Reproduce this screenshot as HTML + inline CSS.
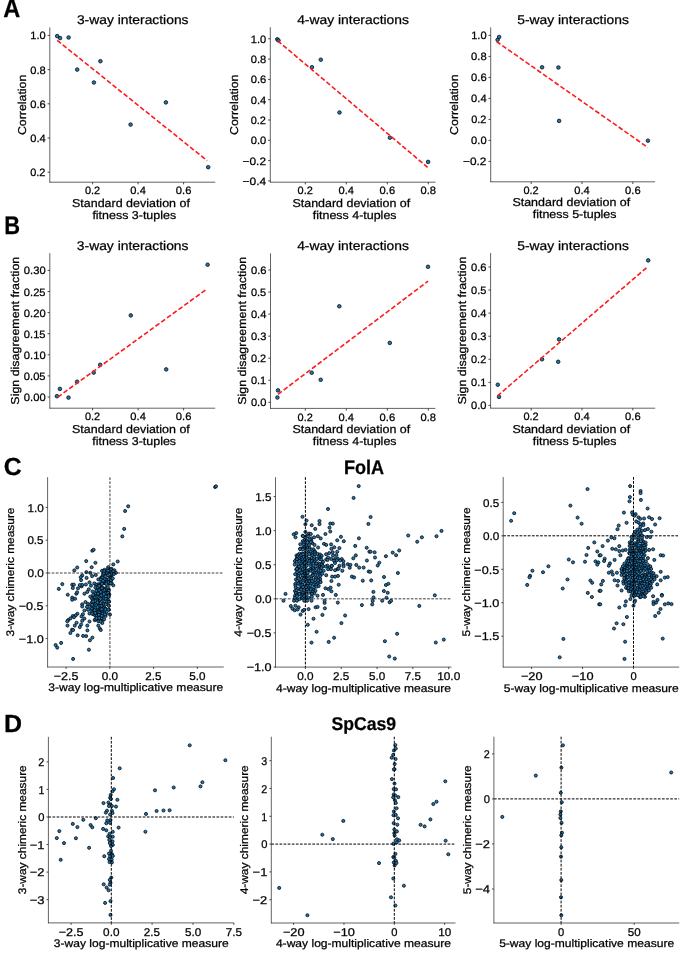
<!DOCTYPE html>
<html><head><meta charset="utf-8"><style>
html,body{margin:0;padding:0;background:#fff;}
svg{display:block;font-family:"Liberation Sans", sans-serif;will-change:transform;}
text{stroke:#000;stroke-width:0.25px;text-rendering:geometricPrecision;}
</style></head><body>
<svg width="685" height="956" viewBox="0 0 685 956">
<rect width="685" height="956" fill="#fff"/>
<text transform="translate(3.31,16.60) scale(0.9103,1)" font-size="25.87" font-weight="bold" fill="#000">A</text>
<text transform="translate(4.24,233.50) scale(0.8557,1)" font-size="25.58" font-weight="bold" fill="#000">B</text>
<text transform="translate(3.78,474.90) scale(1.0059,1)" font-size="24.63" font-weight="bold" fill="#000">C</text>
<text transform="translate(4.03,731.70) scale(1.0037,1)" font-size="24.86" font-weight="bold" fill="#000">D</text>
<line x1="49.80" y1="27.40" x2="49.80" y2="182.50" stroke="#000" stroke-width="0.62"/>
<line x1="49.50" y1="182.20" x2="215.30" y2="182.20" stroke="#000" stroke-width="0.62"/>
<line x1="47.60" y1="35.40" x2="49.80" y2="35.40" stroke="#333" stroke-width="0.9"/>
<line x1="47.60" y1="69.60" x2="49.80" y2="69.60" stroke="#333" stroke-width="0.9"/>
<line x1="47.60" y1="103.80" x2="49.80" y2="103.80" stroke="#333" stroke-width="0.9"/>
<line x1="47.60" y1="138.00" x2="49.80" y2="138.00" stroke="#333" stroke-width="0.9"/>
<line x1="47.60" y1="172.20" x2="49.80" y2="172.20" stroke="#333" stroke-width="0.9"/>
<line x1="92.60" y1="182.20" x2="92.60" y2="184.40" stroke="#333" stroke-width="0.9"/>
<line x1="138.10" y1="182.20" x2="138.10" y2="184.40" stroke="#333" stroke-width="0.9"/>
<line x1="183.60" y1="182.20" x2="183.60" y2="184.40" stroke="#333" stroke-width="0.9"/>
<text transform="translate(30.25,39.44) scale(1.0437,1)" font-size="10.63" font-weight="normal" fill="#000">1.0</text>
<text transform="translate(30.22,73.64) scale(1.0479,1)" font-size="10.63" font-weight="normal" fill="#000">0.8</text>
<text transform="translate(30.22,107.84) scale(1.0521,1)" font-size="10.63" font-weight="normal" fill="#000">0.6</text>
<text transform="translate(30.22,142.04) scale(1.0453,1)" font-size="10.63" font-weight="normal" fill="#000">0.4</text>
<text transform="translate(30.23,176.24) scale(1.0304,1)" font-size="10.63" font-weight="normal" fill="#000">0.2</text>
<text transform="translate(84.88,194.32) scale(1.0304,1)" font-size="10.63" font-weight="normal" fill="#000">0.2</text>
<text transform="translate(130.37,194.32) scale(1.0453,1)" font-size="10.63" font-weight="normal" fill="#000">0.4</text>
<text transform="translate(175.87,194.32) scale(1.0521,1)" font-size="10.63" font-weight="normal" fill="#000">0.6</text>
<text transform="translate(76.88,24.40) scale(1.0919,1)" font-size="12.69" font-weight="normal" fill="#000">3-way interactions</text>
<text transform="translate(72.03,206.70) scale(1.0916,1)" font-size="11.43" font-weight="normal" fill="#000">Standard deviation of</text>
<text transform="translate(92.38,218.50) scale(1.0903,1)" font-size="11.43" font-weight="normal" fill="#000">fitness 3-tuples</text>
<text transform="translate(25.50,134.46) rotate(-90) translate(-0.63,0) scale(1.0810,1)" font-size="11.43" font-weight="normal">Correlation</text>
<line x1="270.30" y1="27.20" x2="270.30" y2="182.50" stroke="#000" stroke-width="0.62"/>
<line x1="270.00" y1="182.20" x2="435.60" y2="182.20" stroke="#000" stroke-width="0.62"/>
<line x1="268.10" y1="38.80" x2="270.30" y2="38.80" stroke="#333" stroke-width="0.9"/>
<line x1="268.10" y1="59.10" x2="270.30" y2="59.10" stroke="#333" stroke-width="0.9"/>
<line x1="268.10" y1="79.40" x2="270.30" y2="79.40" stroke="#333" stroke-width="0.9"/>
<line x1="268.10" y1="99.70" x2="270.30" y2="99.70" stroke="#333" stroke-width="0.9"/>
<line x1="268.10" y1="120.00" x2="270.30" y2="120.00" stroke="#333" stroke-width="0.9"/>
<line x1="268.10" y1="140.30" x2="270.30" y2="140.30" stroke="#333" stroke-width="0.9"/>
<line x1="268.10" y1="160.60" x2="270.30" y2="160.60" stroke="#333" stroke-width="0.9"/>
<line x1="268.10" y1="180.90" x2="270.30" y2="180.90" stroke="#333" stroke-width="0.9"/>
<line x1="305.30" y1="182.20" x2="305.30" y2="184.40" stroke="#333" stroke-width="0.9"/>
<line x1="346.30" y1="182.20" x2="346.30" y2="184.40" stroke="#333" stroke-width="0.9"/>
<line x1="387.30" y1="182.20" x2="387.30" y2="184.40" stroke="#333" stroke-width="0.9"/>
<line x1="428.30" y1="182.20" x2="428.30" y2="184.40" stroke="#333" stroke-width="0.9"/>
<text transform="translate(250.75,42.84) scale(1.0437,1)" font-size="10.63" font-weight="normal" fill="#000">1.0</text>
<text transform="translate(250.72,63.14) scale(1.0479,1)" font-size="10.63" font-weight="normal" fill="#000">0.8</text>
<text transform="translate(250.72,83.44) scale(1.0521,1)" font-size="10.63" font-weight="normal" fill="#000">0.6</text>
<text transform="translate(250.72,103.74) scale(1.0453,1)" font-size="10.63" font-weight="normal" fill="#000">0.4</text>
<text transform="translate(250.73,124.04) scale(1.0304,1)" font-size="10.63" font-weight="normal" fill="#000">0.2</text>
<text transform="translate(250.72,144.34) scale(1.0457,1)" font-size="10.63" font-weight="normal" fill="#000">0.0</text>
<text transform="translate(242.59,164.64) scale(1.1156,1)" font-size="10.63" font-weight="normal" fill="#000">−0.2</text>
<text transform="translate(242.59,184.94) scale(1.1250,1)" font-size="10.63" font-weight="normal" fill="#000">−0.4</text>
<text transform="translate(297.58,194.32) scale(1.0304,1)" font-size="10.63" font-weight="normal" fill="#000">0.2</text>
<text transform="translate(338.57,194.32) scale(1.0453,1)" font-size="10.63" font-weight="normal" fill="#000">0.4</text>
<text transform="translate(379.57,194.32) scale(1.0521,1)" font-size="10.63" font-weight="normal" fill="#000">0.6</text>
<text transform="translate(420.57,194.32) scale(1.0479,1)" font-size="10.63" font-weight="normal" fill="#000">0.8</text>
<text transform="translate(297.16,24.20) scale(1.0931,1)" font-size="12.69" font-weight="normal" fill="#000">4-way interactions</text>
<text transform="translate(292.43,206.70) scale(1.0916,1)" font-size="11.43" font-weight="normal" fill="#000">Standard deviation of</text>
<text transform="translate(312.78,218.50) scale(1.0903,1)" font-size="11.43" font-weight="normal" fill="#000">fitness 4-tuples</text>
<text transform="translate(238.20,134.36) rotate(-90) translate(-0.63,0) scale(1.0810,1)" font-size="11.43" font-weight="normal">Correlation</text>
<line x1="490.70" y1="27.40" x2="490.70" y2="182.10" stroke="#000" stroke-width="0.62"/>
<line x1="490.40" y1="181.80" x2="655.10" y2="181.80" stroke="#000" stroke-width="0.62"/>
<line x1="488.50" y1="35.40" x2="490.70" y2="35.40" stroke="#333" stroke-width="0.9"/>
<line x1="488.50" y1="56.40" x2="490.70" y2="56.40" stroke="#333" stroke-width="0.9"/>
<line x1="488.50" y1="77.40" x2="490.70" y2="77.40" stroke="#333" stroke-width="0.9"/>
<line x1="488.50" y1="98.40" x2="490.70" y2="98.40" stroke="#333" stroke-width="0.9"/>
<line x1="488.50" y1="119.40" x2="490.70" y2="119.40" stroke="#333" stroke-width="0.9"/>
<line x1="488.50" y1="140.40" x2="490.70" y2="140.40" stroke="#333" stroke-width="0.9"/>
<line x1="488.50" y1="161.40" x2="490.70" y2="161.40" stroke="#333" stroke-width="0.9"/>
<line x1="531.20" y1="181.80" x2="531.20" y2="184.00" stroke="#333" stroke-width="0.9"/>
<line x1="582.00" y1="181.80" x2="582.00" y2="184.00" stroke="#333" stroke-width="0.9"/>
<line x1="632.80" y1="181.80" x2="632.80" y2="184.00" stroke="#333" stroke-width="0.9"/>
<text transform="translate(471.15,39.44) scale(1.0437,1)" font-size="10.63" font-weight="normal" fill="#000">1.0</text>
<text transform="translate(471.12,60.44) scale(1.0479,1)" font-size="10.63" font-weight="normal" fill="#000">0.8</text>
<text transform="translate(471.12,81.44) scale(1.0521,1)" font-size="10.63" font-weight="normal" fill="#000">0.6</text>
<text transform="translate(471.12,102.44) scale(1.0453,1)" font-size="10.63" font-weight="normal" fill="#000">0.4</text>
<text transform="translate(471.13,123.44) scale(1.0304,1)" font-size="10.63" font-weight="normal" fill="#000">0.2</text>
<text transform="translate(471.12,144.44) scale(1.0457,1)" font-size="10.63" font-weight="normal" fill="#000">0.0</text>
<text transform="translate(462.99,165.44) scale(1.1156,1)" font-size="10.63" font-weight="normal" fill="#000">−0.2</text>
<text transform="translate(523.48,193.92) scale(1.0304,1)" font-size="10.63" font-weight="normal" fill="#000">0.2</text>
<text transform="translate(574.27,193.92) scale(1.0453,1)" font-size="10.63" font-weight="normal" fill="#000">0.4</text>
<text transform="translate(625.07,193.92) scale(1.0521,1)" font-size="10.63" font-weight="normal" fill="#000">0.6</text>
<text transform="translate(517.22,24.40) scale(1.0920,1)" font-size="12.69" font-weight="normal" fill="#000">5-way interactions</text>
<text transform="translate(512.38,206.30) scale(1.0916,1)" font-size="11.43" font-weight="normal" fill="#000">Standard deviation of</text>
<text transform="translate(532.73,218.10) scale(1.0903,1)" font-size="11.43" font-weight="normal" fill="#000">fitness 5-tuples</text>
<text transform="translate(458.30,134.26) rotate(-90) translate(-0.63,0) scale(1.0810,1)" font-size="11.43" font-weight="normal">Correlation</text>
<line x1="49.80" y1="253.20" x2="49.80" y2="408.50" stroke="#000" stroke-width="0.62"/>
<line x1="49.50" y1="408.20" x2="215.20" y2="408.20" stroke="#000" stroke-width="0.62"/>
<line x1="47.60" y1="270.40" x2="49.80" y2="270.40" stroke="#333" stroke-width="0.9"/>
<line x1="47.60" y1="291.50" x2="49.80" y2="291.50" stroke="#333" stroke-width="0.9"/>
<line x1="47.60" y1="312.60" x2="49.80" y2="312.60" stroke="#333" stroke-width="0.9"/>
<line x1="47.60" y1="333.70" x2="49.80" y2="333.70" stroke="#333" stroke-width="0.9"/>
<line x1="47.60" y1="354.80" x2="49.80" y2="354.80" stroke="#333" stroke-width="0.9"/>
<line x1="47.60" y1="375.90" x2="49.80" y2="375.90" stroke="#333" stroke-width="0.9"/>
<line x1="47.60" y1="397.00" x2="49.80" y2="397.00" stroke="#333" stroke-width="0.9"/>
<line x1="92.60" y1="408.20" x2="92.60" y2="410.40" stroke="#333" stroke-width="0.9"/>
<line x1="138.10" y1="408.20" x2="138.10" y2="410.40" stroke="#333" stroke-width="0.9"/>
<line x1="183.60" y1="408.20" x2="183.60" y2="410.40" stroke="#333" stroke-width="0.9"/>
<text transform="translate(23.86,274.44) scale(1.0549,1)" font-size="10.63" font-weight="normal" fill="#000">0.30</text>
<text transform="translate(23.86,295.54) scale(1.0460,1)" font-size="10.63" font-weight="normal" fill="#000">0.25</text>
<text transform="translate(23.86,316.64) scale(1.0549,1)" font-size="10.63" font-weight="normal" fill="#000">0.20</text>
<text transform="translate(23.86,337.74) scale(1.0460,1)" font-size="10.63" font-weight="normal" fill="#000">0.15</text>
<text transform="translate(23.86,358.84) scale(1.0549,1)" font-size="10.63" font-weight="normal" fill="#000">0.10</text>
<text transform="translate(23.86,379.94) scale(1.0460,1)" font-size="10.63" font-weight="normal" fill="#000">0.05</text>
<text transform="translate(23.86,401.04) scale(1.0549,1)" font-size="10.63" font-weight="normal" fill="#000">0.00</text>
<text transform="translate(84.88,420.32) scale(1.0304,1)" font-size="10.63" font-weight="normal" fill="#000">0.2</text>
<text transform="translate(130.37,420.32) scale(1.0453,1)" font-size="10.63" font-weight="normal" fill="#000">0.4</text>
<text transform="translate(175.87,420.32) scale(1.0521,1)" font-size="10.63" font-weight="normal" fill="#000">0.6</text>
<text transform="translate(76.83,250.20) scale(1.0919,1)" font-size="12.69" font-weight="normal" fill="#000">3-way interactions</text>
<text transform="translate(71.98,432.70) scale(1.0916,1)" font-size="11.43" font-weight="normal" fill="#000">Standard deviation of</text>
<text transform="translate(92.33,444.50) scale(1.0903,1)" font-size="11.43" font-weight="normal" fill="#000">fitness 3-tuples</text>
<text transform="translate(18.70,404.08) rotate(-90) translate(-0.56,0) scale(1.0881,1)" font-size="11.43" font-weight="normal">Sign disagreement fraction</text>
<line x1="270.50" y1="253.30" x2="270.50" y2="408.70" stroke="#000" stroke-width="0.62"/>
<line x1="270.20" y1="408.40" x2="435.40" y2="408.40" stroke="#000" stroke-width="0.62"/>
<line x1="268.30" y1="270.00" x2="270.50" y2="270.00" stroke="#333" stroke-width="0.9"/>
<line x1="268.30" y1="292.05" x2="270.50" y2="292.05" stroke="#333" stroke-width="0.9"/>
<line x1="268.30" y1="314.10" x2="270.50" y2="314.10" stroke="#333" stroke-width="0.9"/>
<line x1="268.30" y1="336.15" x2="270.50" y2="336.15" stroke="#333" stroke-width="0.9"/>
<line x1="268.30" y1="358.20" x2="270.50" y2="358.20" stroke="#333" stroke-width="0.9"/>
<line x1="268.30" y1="380.25" x2="270.50" y2="380.25" stroke="#333" stroke-width="0.9"/>
<line x1="268.30" y1="402.30" x2="270.50" y2="402.30" stroke="#333" stroke-width="0.9"/>
<line x1="305.30" y1="408.40" x2="305.30" y2="410.60" stroke="#333" stroke-width="0.9"/>
<line x1="346.30" y1="408.40" x2="346.30" y2="410.60" stroke="#333" stroke-width="0.9"/>
<line x1="387.30" y1="408.40" x2="387.30" y2="410.60" stroke="#333" stroke-width="0.9"/>
<line x1="428.30" y1="408.40" x2="428.30" y2="410.60" stroke="#333" stroke-width="0.9"/>
<text transform="translate(250.92,274.04) scale(1.0521,1)" font-size="10.63" font-weight="normal" fill="#000">0.6</text>
<text transform="translate(250.93,296.09) scale(1.0330,1)" font-size="10.63" font-weight="normal" fill="#000">0.5</text>
<text transform="translate(250.92,318.14) scale(1.0453,1)" font-size="10.63" font-weight="normal" fill="#000">0.4</text>
<text transform="translate(250.92,340.19) scale(1.0398,1)" font-size="10.63" font-weight="normal" fill="#000">0.3</text>
<text transform="translate(250.93,362.24) scale(1.0304,1)" font-size="10.63" font-weight="normal" fill="#000">0.2</text>
<text transform="translate(250.93,384.29) scale(1.0349,1)" font-size="10.63" font-weight="normal" fill="#000">0.1</text>
<text transform="translate(250.92,406.34) scale(1.0457,1)" font-size="10.63" font-weight="normal" fill="#000">0.0</text>
<text transform="translate(297.58,420.52) scale(1.0304,1)" font-size="10.63" font-weight="normal" fill="#000">0.2</text>
<text transform="translate(338.57,420.52) scale(1.0453,1)" font-size="10.63" font-weight="normal" fill="#000">0.4</text>
<text transform="translate(379.57,420.52) scale(1.0521,1)" font-size="10.63" font-weight="normal" fill="#000">0.6</text>
<text transform="translate(420.57,420.52) scale(1.0479,1)" font-size="10.63" font-weight="normal" fill="#000">0.8</text>
<text transform="translate(297.16,250.30) scale(1.0931,1)" font-size="12.69" font-weight="normal" fill="#000">4-way interactions</text>
<text transform="translate(292.43,432.90) scale(1.0916,1)" font-size="11.43" font-weight="normal" fill="#000">Standard deviation of</text>
<text transform="translate(312.78,444.70) scale(1.0903,1)" font-size="11.43" font-weight="normal" fill="#000">fitness 4-tuples</text>
<text transform="translate(245.50,404.23) rotate(-90) translate(-0.56,0) scale(1.0881,1)" font-size="11.43" font-weight="normal">Sign disagreement fraction</text>
<line x1="490.60" y1="253.00" x2="490.60" y2="408.50" stroke="#000" stroke-width="0.62"/>
<line x1="490.30" y1="408.20" x2="655.20" y2="408.20" stroke="#000" stroke-width="0.62"/>
<line x1="488.40" y1="267.00" x2="490.60" y2="267.00" stroke="#333" stroke-width="0.9"/>
<line x1="488.40" y1="290.07" x2="490.60" y2="290.07" stroke="#333" stroke-width="0.9"/>
<line x1="488.40" y1="313.14" x2="490.60" y2="313.14" stroke="#333" stroke-width="0.9"/>
<line x1="488.40" y1="336.21" x2="490.60" y2="336.21" stroke="#333" stroke-width="0.9"/>
<line x1="488.40" y1="359.28" x2="490.60" y2="359.28" stroke="#333" stroke-width="0.9"/>
<line x1="488.40" y1="382.35" x2="490.60" y2="382.35" stroke="#333" stroke-width="0.9"/>
<line x1="488.40" y1="405.42" x2="490.60" y2="405.42" stroke="#333" stroke-width="0.9"/>
<line x1="531.20" y1="408.20" x2="531.20" y2="410.40" stroke="#333" stroke-width="0.9"/>
<line x1="582.00" y1="408.20" x2="582.00" y2="410.40" stroke="#333" stroke-width="0.9"/>
<line x1="632.80" y1="408.20" x2="632.80" y2="410.40" stroke="#333" stroke-width="0.9"/>
<text transform="translate(471.02,271.04) scale(1.0521,1)" font-size="10.63" font-weight="normal" fill="#000">0.6</text>
<text transform="translate(471.03,294.11) scale(1.0330,1)" font-size="10.63" font-weight="normal" fill="#000">0.5</text>
<text transform="translate(471.02,317.18) scale(1.0453,1)" font-size="10.63" font-weight="normal" fill="#000">0.4</text>
<text transform="translate(471.02,340.25) scale(1.0398,1)" font-size="10.63" font-weight="normal" fill="#000">0.3</text>
<text transform="translate(471.03,363.32) scale(1.0304,1)" font-size="10.63" font-weight="normal" fill="#000">0.2</text>
<text transform="translate(471.03,386.39) scale(1.0349,1)" font-size="10.63" font-weight="normal" fill="#000">0.1</text>
<text transform="translate(471.02,409.46) scale(1.0457,1)" font-size="10.63" font-weight="normal" fill="#000">0.0</text>
<text transform="translate(523.48,420.32) scale(1.0304,1)" font-size="10.63" font-weight="normal" fill="#000">0.2</text>
<text transform="translate(574.27,420.32) scale(1.0453,1)" font-size="10.63" font-weight="normal" fill="#000">0.4</text>
<text transform="translate(625.07,420.32) scale(1.0521,1)" font-size="10.63" font-weight="normal" fill="#000">0.6</text>
<text transform="translate(517.22,250.00) scale(1.0920,1)" font-size="12.69" font-weight="normal" fill="#000">5-way interactions</text>
<text transform="translate(512.38,432.70) scale(1.0916,1)" font-size="11.43" font-weight="normal" fill="#000">Standard deviation of</text>
<text transform="translate(532.73,444.50) scale(1.0903,1)" font-size="11.43" font-weight="normal" fill="#000">fitness 5-tuples</text>
<text transform="translate(465.50,403.98) rotate(-90) translate(-0.56,0) scale(1.0881,1)" font-size="11.43" font-weight="normal">Sign disagreement fraction</text>
<g fill="#1f77b4" stroke="#000" stroke-width="0.75">
<circle cx="57.2" cy="36.1" r="1.8"/>
<circle cx="60.1" cy="38.1" r="1.8"/>
<circle cx="68.6" cy="37.5" r="1.8"/>
<circle cx="77.2" cy="69.6" r="1.8"/>
<circle cx="93.9" cy="82.5" r="1.8"/>
<circle cx="100.4" cy="61.2" r="1.8"/>
<circle cx="130.6" cy="124.6" r="1.8"/>
<circle cx="165.9" cy="102.4" r="1.8"/>
<circle cx="208.2" cy="167.2" r="1.8"/>
<circle cx="277.3" cy="39.3" r="1.8"/>
<circle cx="278.5" cy="40.5" r="1.8"/>
<circle cx="311.9" cy="67.2" r="1.8"/>
<circle cx="320.8" cy="59.7" r="1.8"/>
<circle cx="339.5" cy="112.5" r="1.8"/>
<circle cx="389.9" cy="137.7" r="1.8"/>
<circle cx="428.1" cy="161.9" r="1.8"/>
<circle cx="497.6" cy="39.8" r="1.8"/>
<circle cx="499.1" cy="37.0" r="1.8"/>
<circle cx="542.1" cy="67.3" r="1.8"/>
<circle cx="558.4" cy="67.5" r="1.8"/>
<circle cx="559.1" cy="120.9" r="1.8"/>
<circle cx="647.9" cy="140.7" r="1.8"/>
<circle cx="56.9" cy="396.2" r="1.8"/>
<circle cx="59.9" cy="388.9" r="1.8"/>
<circle cx="68.5" cy="397.6" r="1.8"/>
<circle cx="77.1" cy="381.7" r="1.8"/>
<circle cx="93.7" cy="372.6" r="1.8"/>
<circle cx="100.2" cy="364.8" r="1.8"/>
<circle cx="130.8" cy="315.4" r="1.8"/>
<circle cx="166.2" cy="369.4" r="1.8"/>
<circle cx="207.6" cy="264.7" r="1.8"/>
<circle cx="278.0" cy="390.4" r="1.8"/>
<circle cx="277.4" cy="397.5" r="1.8"/>
<circle cx="311.7" cy="372.7" r="1.8"/>
<circle cx="320.7" cy="379.8" r="1.8"/>
<circle cx="339.3" cy="306.3" r="1.8"/>
<circle cx="389.8" cy="342.9" r="1.8"/>
<circle cx="428.0" cy="266.8" r="1.8"/>
<circle cx="497.8" cy="384.7" r="1.8"/>
<circle cx="499.0" cy="396.9" r="1.8"/>
<circle cx="542.0" cy="359.3" r="1.8"/>
<circle cx="558.2" cy="361.8" r="1.8"/>
<circle cx="559.1" cy="339.4" r="1.8"/>
<circle cx="648.2" cy="260.4" r="1.8"/>
</g>
<line x1="57.2" y1="40.4" x2="207.2" y2="160.7" stroke="#ff1a1a" stroke-width="1.6" stroke-dasharray="4.8,2.3"/>
<line x1="277.6" y1="40.7" x2="427.6" y2="167.3" stroke="#ff1a1a" stroke-width="1.6" stroke-dasharray="4.8,2.3"/>
<line x1="496.5" y1="41.5" x2="647.9" y2="147.5" stroke="#ff1a1a" stroke-width="1.6" stroke-dasharray="4.8,2.3"/>
<line x1="57.8" y1="397.1" x2="207.2" y2="288.8" stroke="#ff1a1a" stroke-width="1.6" stroke-dasharray="4.8,2.3"/>
<line x1="278" y1="394.3" x2="428" y2="281.2" stroke="#ff1a1a" stroke-width="1.6" stroke-dasharray="4.8,2.3"/>
<line x1="497.4" y1="395.9" x2="648.2" y2="266.3" stroke="#ff1a1a" stroke-width="1.6" stroke-dasharray="4.8,2.3"/>
<line x1="47.60" y1="477.20" x2="47.60" y2="667.30" stroke="#000" stroke-width="0.62"/>
<line x1="47.30" y1="667.00" x2="223.80" y2="667.00" stroke="#000" stroke-width="0.62"/>
<line x1="45.70" y1="507.40" x2="47.60" y2="507.40" stroke="#333" stroke-width="0.9"/>
<line x1="45.70" y1="540.20" x2="47.60" y2="540.20" stroke="#333" stroke-width="0.9"/>
<line x1="45.70" y1="573.00" x2="47.60" y2="573.00" stroke="#333" stroke-width="0.9"/>
<line x1="45.70" y1="605.80" x2="47.60" y2="605.80" stroke="#333" stroke-width="0.9"/>
<line x1="45.70" y1="638.60" x2="47.60" y2="638.60" stroke="#333" stroke-width="0.9"/>
<line x1="66.10" y1="667.00" x2="66.10" y2="668.90" stroke="#333" stroke-width="0.9"/>
<line x1="109.85" y1="667.00" x2="109.85" y2="668.90" stroke="#333" stroke-width="0.9"/>
<line x1="153.60" y1="667.00" x2="153.60" y2="668.90" stroke="#333" stroke-width="0.9"/>
<line x1="197.35" y1="667.00" x2="197.35" y2="668.90" stroke="#333" stroke-width="0.9"/>
<text transform="translate(27.41,511.60) scale(1.0437,1)" font-size="11.26" font-weight="normal" fill="#000">1.0</text>
<text transform="translate(27.39,544.40) scale(1.0330,1)" font-size="11.26" font-weight="normal" fill="#000">0.5</text>
<text transform="translate(27.38,577.20) scale(1.0457,1)" font-size="11.26" font-weight="normal" fill="#000">0.0</text>
<text transform="translate(18.76,610.00) scale(1.1170,1)" font-size="11.26" font-weight="normal" fill="#000">−0.5</text>
<text transform="translate(18.76,642.80) scale(1.1257,1)" font-size="11.26" font-weight="normal" fill="#000">−1.0</text>
<text transform="translate(53.73,680.07) scale(1.1170,1)" font-size="11.26" font-weight="normal" fill="#000">−2.5</text>
<text transform="translate(101.66,680.07) scale(1.0457,1)" font-size="11.26" font-weight="normal" fill="#000">0.0</text>
<text transform="translate(145.36,680.07) scale(1.0366,1)" font-size="11.26" font-weight="normal" fill="#000">2.5</text>
<text transform="translate(189.27,680.07) scale(1.0385,1)" font-size="11.26" font-weight="normal" fill="#000">5.0</text>
<text transform="translate(48.32,691.40) scale(1.0964,1)" font-size="11.01" font-weight="normal" fill="#000">3-way log-multiplicative measure</text>
<text transform="translate(13.90,636.02) rotate(-90) translate(-0.45,0) scale(1.0819,1)" font-size="11.01" font-weight="normal">3-way chimeric measure</text>
<line x1="275.50" y1="477.20" x2="275.50" y2="667.40" stroke="#000" stroke-width="0.62"/>
<line x1="275.20" y1="667.10" x2="451.40" y2="667.10" stroke="#000" stroke-width="0.62"/>
<line x1="273.60" y1="496.60" x2="275.50" y2="496.60" stroke="#333" stroke-width="0.9"/>
<line x1="273.60" y1="530.68" x2="275.50" y2="530.68" stroke="#333" stroke-width="0.9"/>
<line x1="273.60" y1="564.76" x2="275.50" y2="564.76" stroke="#333" stroke-width="0.9"/>
<line x1="273.60" y1="598.84" x2="275.50" y2="598.84" stroke="#333" stroke-width="0.9"/>
<line x1="273.60" y1="632.92" x2="275.50" y2="632.92" stroke="#333" stroke-width="0.9"/>
<line x1="273.60" y1="667.00" x2="275.50" y2="667.00" stroke="#333" stroke-width="0.9"/>
<line x1="305.40" y1="667.10" x2="305.40" y2="669.00" stroke="#333" stroke-width="0.9"/>
<line x1="341.23" y1="667.10" x2="341.23" y2="669.00" stroke="#333" stroke-width="0.9"/>
<line x1="377.06" y1="667.10" x2="377.06" y2="669.00" stroke="#333" stroke-width="0.9"/>
<line x1="412.89" y1="667.10" x2="412.89" y2="669.00" stroke="#333" stroke-width="0.9"/>
<line x1="448.72" y1="667.10" x2="448.72" y2="669.00" stroke="#333" stroke-width="0.9"/>
<text transform="translate(255.32,500.80) scale(1.0155,1)" font-size="11.43" font-weight="normal" fill="#000">1.5</text>
<text transform="translate(255.31,534.88) scale(1.0437,1)" font-size="11.26" font-weight="normal" fill="#000">1.0</text>
<text transform="translate(255.29,568.96) scale(1.0330,1)" font-size="11.26" font-weight="normal" fill="#000">0.5</text>
<text transform="translate(255.28,603.04) scale(1.0457,1)" font-size="11.26" font-weight="normal" fill="#000">0.0</text>
<text transform="translate(246.66,637.12) scale(1.1170,1)" font-size="11.26" font-weight="normal" fill="#000">−0.5</text>
<text transform="translate(246.66,671.20) scale(1.1257,1)" font-size="11.26" font-weight="normal" fill="#000">−1.0</text>
<text transform="translate(297.21,680.17) scale(1.0457,1)" font-size="11.26" font-weight="normal" fill="#000">0.0</text>
<text transform="translate(332.99,680.17) scale(1.0366,1)" font-size="11.26" font-weight="normal" fill="#000">2.5</text>
<text transform="translate(368.98,680.17) scale(1.0385,1)" font-size="11.26" font-weight="normal" fill="#000">5.0</text>
<text transform="translate(404.74,680.17) scale(1.0159,1)" font-size="11.43" font-weight="normal" fill="#000">7.5</text>
<text transform="translate(437.18,680.17) scale(1.0537,1)" font-size="11.26" font-weight="normal" fill="#000">10.0</text>
<text transform="translate(275.96,691.50) scale(1.0970,1)" font-size="11.01" font-weight="normal" fill="#000">4-way log-multiplicative measure</text>
<text transform="translate(242.00,636.36) rotate(-90) translate(-0.27,0) scale(1.0828,1)" font-size="11.01" font-weight="normal">4-way chimeric measure</text>
<line x1="503.20" y1="477.00" x2="503.20" y2="667.40" stroke="#000" stroke-width="0.62"/>
<line x1="502.90" y1="667.10" x2="679.20" y2="667.10" stroke="#000" stroke-width="0.62"/>
<line x1="501.30" y1="502.40" x2="503.20" y2="502.40" stroke="#333" stroke-width="0.9"/>
<line x1="501.30" y1="535.85" x2="503.20" y2="535.85" stroke="#333" stroke-width="0.9"/>
<line x1="501.30" y1="569.30" x2="503.20" y2="569.30" stroke="#333" stroke-width="0.9"/>
<line x1="501.30" y1="602.75" x2="503.20" y2="602.75" stroke="#333" stroke-width="0.9"/>
<line x1="501.30" y1="636.20" x2="503.20" y2="636.20" stroke="#333" stroke-width="0.9"/>
<line x1="531.60" y1="667.10" x2="531.60" y2="669.00" stroke="#333" stroke-width="0.9"/>
<line x1="582.55" y1="667.10" x2="582.55" y2="669.00" stroke="#333" stroke-width="0.9"/>
<line x1="633.50" y1="667.10" x2="633.50" y2="669.00" stroke="#333" stroke-width="0.9"/>
<text transform="translate(482.99,506.60) scale(1.0330,1)" font-size="11.26" font-weight="normal" fill="#000">0.5</text>
<text transform="translate(482.98,540.05) scale(1.0457,1)" font-size="11.26" font-weight="normal" fill="#000">0.0</text>
<text transform="translate(474.36,573.50) scale(1.1170,1)" font-size="11.26" font-weight="normal" fill="#000">−0.5</text>
<text transform="translate(474.36,606.95) scale(1.1257,1)" font-size="11.26" font-weight="normal" fill="#000">−1.0</text>
<text transform="translate(474.36,640.40) scale(1.1006,1)" font-size="11.43" font-weight="normal" fill="#000">−1.5</text>
<text transform="translate(520.91,680.17) scale(1.1342,1)" font-size="11.26" font-weight="normal" fill="#000">−20</text>
<text transform="translate(571.86,680.17) scale(1.1342,1)" font-size="11.26" font-weight="normal" fill="#000">−10</text>
<text transform="translate(630.39,680.17) scale(0.9920,1)" font-size="11.26" font-weight="normal" fill="#000">0</text>
<text transform="translate(503.80,691.50) scale(1.0965,1)" font-size="11.01" font-weight="normal" fill="#000">5-way log-multiplicative measure</text>
<text transform="translate(470.00,635.96) rotate(-90) translate(-0.48,0) scale(1.0820,1)" font-size="11.01" font-weight="normal">5-way chimeric measure</text>
<line x1="48.40" y1="736.80" x2="48.40" y2="923.20" stroke="#000" stroke-width="0.62"/>
<line x1="48.10" y1="922.90" x2="233.90" y2="922.90" stroke="#000" stroke-width="0.62"/>
<line x1="46.50" y1="761.90" x2="48.40" y2="761.90" stroke="#333" stroke-width="0.9"/>
<line x1="46.50" y1="789.45" x2="48.40" y2="789.45" stroke="#333" stroke-width="0.9"/>
<line x1="46.50" y1="817.00" x2="48.40" y2="817.00" stroke="#333" stroke-width="0.9"/>
<line x1="46.50" y1="844.55" x2="48.40" y2="844.55" stroke="#333" stroke-width="0.9"/>
<line x1="46.50" y1="872.10" x2="48.40" y2="872.10" stroke="#333" stroke-width="0.9"/>
<line x1="46.50" y1="899.65" x2="48.40" y2="899.65" stroke="#333" stroke-width="0.9"/>
<line x1="71.10" y1="922.90" x2="71.10" y2="924.80" stroke="#333" stroke-width="0.9"/>
<line x1="111.30" y1="922.90" x2="111.30" y2="924.80" stroke="#333" stroke-width="0.9"/>
<line x1="152.10" y1="922.90" x2="152.10" y2="924.80" stroke="#333" stroke-width="0.9"/>
<line x1="193.00" y1="922.90" x2="193.00" y2="924.80" stroke="#333" stroke-width="0.9"/>
<line x1="233.90" y1="922.90" x2="233.90" y2="924.80" stroke="#333" stroke-width="0.9"/>
<text transform="translate(38.29,766.10) scale(0.9562,1)" font-size="11.26" font-weight="normal" fill="#000">2</text>
<text transform="translate(38.41,793.65) scale(0.9335,1)" font-size="11.43" font-weight="normal" fill="#000">1</text>
<text transform="translate(38.32,821.20) scale(0.9920,1)" font-size="11.26" font-weight="normal" fill="#000">0</text>
<text transform="translate(29.66,848.75) scale(1.1353,1)" font-size="11.43" font-weight="normal" fill="#000">−1</text>
<text transform="translate(29.66,876.30) scale(1.1468,1)" font-size="11.26" font-weight="normal" fill="#000">−2</text>
<text transform="translate(29.65,903.85) scale(1.1578,1)" font-size="11.26" font-weight="normal" fill="#000">−3</text>
<text transform="translate(58.73,935.97) scale(1.1170,1)" font-size="11.26" font-weight="normal" fill="#000">−2.5</text>
<text transform="translate(103.11,935.97) scale(1.0457,1)" font-size="11.26" font-weight="normal" fill="#000">0.0</text>
<text transform="translate(143.86,935.97) scale(1.0366,1)" font-size="11.26" font-weight="normal" fill="#000">2.5</text>
<text transform="translate(184.92,935.97) scale(1.0385,1)" font-size="11.26" font-weight="normal" fill="#000">5.0</text>
<text transform="translate(225.75,935.97) scale(1.0159,1)" font-size="11.43" font-weight="normal" fill="#000">7.5</text>
<text transform="translate(53.77,947.30) scale(1.0964,1)" font-size="11.01" font-weight="normal" fill="#000">3-way log-multiplicative measure</text>
<text transform="translate(25.50,893.77) rotate(-90) translate(-0.45,0) scale(1.0819,1)" font-size="11.01" font-weight="normal">3-way chimeric measure</text>
<line x1="271.30" y1="736.70" x2="271.30" y2="923.30" stroke="#000" stroke-width="0.62"/>
<line x1="271.00" y1="923.00" x2="455.50" y2="923.00" stroke="#000" stroke-width="0.62"/>
<line x1="269.40" y1="760.70" x2="271.30" y2="760.70" stroke="#333" stroke-width="0.9"/>
<line x1="269.40" y1="788.50" x2="271.30" y2="788.50" stroke="#333" stroke-width="0.9"/>
<line x1="269.40" y1="816.30" x2="271.30" y2="816.30" stroke="#333" stroke-width="0.9"/>
<line x1="269.40" y1="844.10" x2="271.30" y2="844.10" stroke="#333" stroke-width="0.9"/>
<line x1="269.40" y1="871.90" x2="271.30" y2="871.90" stroke="#333" stroke-width="0.9"/>
<line x1="269.40" y1="899.70" x2="271.30" y2="899.70" stroke="#333" stroke-width="0.9"/>
<line x1="293.60" y1="923.00" x2="293.60" y2="924.90" stroke="#333" stroke-width="0.9"/>
<line x1="343.95" y1="923.00" x2="343.95" y2="924.90" stroke="#333" stroke-width="0.9"/>
<line x1="394.30" y1="923.00" x2="394.30" y2="924.90" stroke="#333" stroke-width="0.9"/>
<line x1="444.65" y1="923.00" x2="444.65" y2="924.90" stroke="#333" stroke-width="0.9"/>
<text transform="translate(261.35,764.90) scale(0.9527,1)" font-size="11.26" font-weight="normal" fill="#000">3</text>
<text transform="translate(261.19,792.70) scale(0.9562,1)" font-size="11.26" font-weight="normal" fill="#000">2</text>
<text transform="translate(261.31,820.50) scale(0.9335,1)" font-size="11.43" font-weight="normal" fill="#000">1</text>
<text transform="translate(261.22,848.30) scale(0.9920,1)" font-size="11.26" font-weight="normal" fill="#000">0</text>
<text transform="translate(252.56,876.10) scale(1.1353,1)" font-size="11.43" font-weight="normal" fill="#000">−1</text>
<text transform="translate(252.56,903.90) scale(1.1468,1)" font-size="11.26" font-weight="normal" fill="#000">−2</text>
<text transform="translate(282.91,936.07) scale(1.1342,1)" font-size="11.26" font-weight="normal" fill="#000">−20</text>
<text transform="translate(333.26,936.07) scale(1.1342,1)" font-size="11.26" font-weight="normal" fill="#000">−10</text>
<text transform="translate(391.19,936.07) scale(0.9920,1)" font-size="11.26" font-weight="normal" fill="#000">0</text>
<text transform="translate(438.18,936.07) scale(1.0346,1)" font-size="11.26" font-weight="normal" fill="#000">10</text>
<text transform="translate(275.91,947.40) scale(1.0970,1)" font-size="11.01" font-weight="normal" fill="#000">4-way log-multiplicative measure</text>
<text transform="translate(247.90,894.06) rotate(-90) translate(-0.27,0) scale(1.0828,1)" font-size="11.01" font-weight="normal">4-way chimeric measure</text>
<line x1="493.90" y1="736.70" x2="493.90" y2="923.30" stroke="#000" stroke-width="0.62"/>
<line x1="493.60" y1="923.00" x2="679.20" y2="923.00" stroke="#000" stroke-width="0.62"/>
<line x1="492.00" y1="753.90" x2="493.90" y2="753.90" stroke="#333" stroke-width="0.9"/>
<line x1="492.00" y1="798.93" x2="493.90" y2="798.93" stroke="#333" stroke-width="0.9"/>
<line x1="492.00" y1="843.96" x2="493.90" y2="843.96" stroke="#333" stroke-width="0.9"/>
<line x1="492.00" y1="888.99" x2="493.90" y2="888.99" stroke="#333" stroke-width="0.9"/>
<line x1="561.10" y1="923.00" x2="561.10" y2="924.90" stroke="#333" stroke-width="0.9"/>
<line x1="634.20" y1="923.00" x2="634.20" y2="924.90" stroke="#333" stroke-width="0.9"/>
<text transform="translate(483.79,758.10) scale(0.9562,1)" font-size="11.26" font-weight="normal" fill="#000">2</text>
<text transform="translate(483.82,803.13) scale(0.9920,1)" font-size="11.26" font-weight="normal" fill="#000">0</text>
<text transform="translate(475.16,848.16) scale(1.1468,1)" font-size="11.26" font-weight="normal" fill="#000">−2</text>
<text transform="translate(475.15,893.19) scale(1.1460,1)" font-size="11.43" font-weight="normal" fill="#000">−4</text>
<text transform="translate(557.99,936.07) scale(0.9920,1)" font-size="11.26" font-weight="normal" fill="#000">0</text>
<text transform="translate(627.81,936.07) scale(1.0282,1)" font-size="11.26" font-weight="normal" fill="#000">50</text>
<text transform="translate(499.15,947.40) scale(1.0965,1)" font-size="11.01" font-weight="normal" fill="#000">5-way log-multiplicative measure</text>
<text transform="translate(470.90,893.76) rotate(-90) translate(-0.48,0) scale(1.0820,1)" font-size="11.01" font-weight="normal">5-way chimeric measure</text>
<text transform="translate(343.99,473.80) scale(0.9166,1)" font-size="19.73" font-weight="bold" fill="#000">FolA</text>
<text transform="translate(331.49,730.00) scale(0.9615,1)" font-size="18.33" font-weight="bold" fill="#000">SpCas9</text>
<g fill="#1f77b4" stroke="#000" stroke-width="0.75">
<circle cx="86.2" cy="561.1" r="1.55"/>
<circle cx="95.4" cy="562.8" r="1.55"/>
<circle cx="91.7" cy="567.2" r="1.55"/>
<circle cx="113.3" cy="564.4" r="1.55"/>
<circle cx="117.7" cy="561.5" r="1.55"/>
<circle cx="108.2" cy="567.2" r="1.55"/>
<circle cx="111.5" cy="568.8" r="1.55"/>
<circle cx="102.0" cy="570.8" r="1.55"/>
<circle cx="114.4" cy="570.3" r="1.55"/>
<circle cx="115.9" cy="572.8" r="1.55"/>
<circle cx="86.4" cy="572.1" r="1.55"/>
<circle cx="90.3" cy="572.8" r="1.55"/>
<circle cx="92.1" cy="576.1" r="1.55"/>
<circle cx="95.8" cy="575.0" r="1.55"/>
<circle cx="82.2" cy="575.4" r="1.55"/>
<circle cx="86.6" cy="577.9" r="1.55"/>
<circle cx="80.7" cy="577.2" r="1.55"/>
<circle cx="81.1" cy="580.1" r="1.55"/>
<circle cx="105.6" cy="573.6" r="1.55"/>
<circle cx="110.0" cy="571.7" r="1.55"/>
<circle cx="111.9" cy="574.3" r="1.55"/>
<circle cx="107.8" cy="575.4" r="1.55"/>
<circle cx="111.5" cy="577.6" r="1.55"/>
<circle cx="98.3" cy="579.4" r="1.55"/>
<circle cx="101.2" cy="577.6" r="1.55"/>
<circle cx="104.2" cy="579.0" r="1.55"/>
<circle cx="107.1" cy="579.8" r="1.55"/>
<circle cx="109.3" cy="579.8" r="1.55"/>
<circle cx="111.5" cy="579.4" r="1.55"/>
<circle cx="113.3" cy="585.3" r="1.55"/>
<circle cx="108.6" cy="583.8" r="1.55"/>
<circle cx="106.4" cy="582.0" r="1.55"/>
<circle cx="102.7" cy="583.4" r="1.55"/>
<circle cx="100.5" cy="585.6" r="1.55"/>
<circle cx="98.3" cy="584.2" r="1.55"/>
<circle cx="95.8" cy="584.5" r="1.55"/>
<circle cx="94.3" cy="583.4" r="1.55"/>
<circle cx="89.5" cy="582.3" r="1.55"/>
<circle cx="91.0" cy="585.6" r="1.55"/>
<circle cx="85.9" cy="584.5" r="1.55"/>
<circle cx="81.5" cy="586.4" r="1.55"/>
<circle cx="82.2" cy="584.9" r="1.55"/>
<circle cx="95.4" cy="587.5" r="1.55"/>
<circle cx="99.0" cy="588.2" r="1.55"/>
<circle cx="102.7" cy="587.8" r="1.55"/>
<circle cx="105.6" cy="588.2" r="1.55"/>
<circle cx="108.6" cy="589.7" r="1.55"/>
<circle cx="88.8" cy="589.3" r="1.55"/>
<circle cx="87.3" cy="591.9" r="1.55"/>
<circle cx="84.4" cy="593.7" r="1.55"/>
<circle cx="92.5" cy="591.5" r="1.55"/>
<circle cx="96.8" cy="590.4" r="1.55"/>
<circle cx="101.2" cy="590.4" r="1.55"/>
<circle cx="104.9" cy="591.1" r="1.55"/>
<circle cx="107.8" cy="592.2" r="1.55"/>
<circle cx="109.3" cy="594.4" r="1.55"/>
<circle cx="95.4" cy="593.3" r="1.55"/>
<circle cx="98.3" cy="593.7" r="1.55"/>
<circle cx="102.0" cy="593.7" r="1.55"/>
<circle cx="105.6" cy="594.4" r="1.55"/>
<circle cx="90.3" cy="596.6" r="1.55"/>
<circle cx="93.6" cy="595.9" r="1.55"/>
<circle cx="96.8" cy="598.1" r="1.55"/>
<circle cx="100.5" cy="596.6" r="1.55"/>
<circle cx="103.4" cy="597.4" r="1.55"/>
<circle cx="106.7" cy="598.5" r="1.55"/>
<circle cx="93.2" cy="599.9" r="1.55"/>
<circle cx="99.0" cy="600.7" r="1.55"/>
<circle cx="103.4" cy="599.9" r="1.55"/>
<circle cx="85.5" cy="602.1" r="1.55"/>
<circle cx="82.2" cy="604.3" r="1.55"/>
<circle cx="82.2" cy="606.5" r="1.55"/>
<circle cx="88.1" cy="604.0" r="1.55"/>
<circle cx="92.1" cy="604.0" r="1.55"/>
<circle cx="95.8" cy="603.2" r="1.55"/>
<circle cx="99.0" cy="604.0" r="1.55"/>
<circle cx="102.7" cy="603.2" r="1.55"/>
<circle cx="106.7" cy="603.2" r="1.55"/>
<circle cx="87.0" cy="606.9" r="1.55"/>
<circle cx="91.0" cy="607.6" r="1.55"/>
<circle cx="94.7" cy="606.5" r="1.55"/>
<circle cx="98.3" cy="606.5" r="1.55"/>
<circle cx="102.0" cy="606.2" r="1.55"/>
<circle cx="104.9" cy="608.0" r="1.55"/>
<circle cx="108.9" cy="609.8" r="1.55"/>
<circle cx="84.4" cy="610.5" r="1.55"/>
<circle cx="88.1" cy="609.8" r="1.55"/>
<circle cx="91.7" cy="610.5" r="1.55"/>
<circle cx="95.4" cy="609.8" r="1.55"/>
<circle cx="99.0" cy="609.8" r="1.55"/>
<circle cx="102.0" cy="610.5" r="1.55"/>
<circle cx="82.9" cy="614.2" r="1.55"/>
<circle cx="89.5" cy="613.5" r="1.55"/>
<circle cx="93.2" cy="614.2" r="1.55"/>
<circle cx="96.8" cy="612.7" r="1.55"/>
<circle cx="100.5" cy="613.5" r="1.55"/>
<circle cx="104.2" cy="612.4" r="1.55"/>
<circle cx="110.0" cy="614.6" r="1.55"/>
<circle cx="81.5" cy="616.4" r="1.55"/>
<circle cx="84.4" cy="618.6" r="1.55"/>
<circle cx="95.4" cy="615.7" r="1.55"/>
<circle cx="99.0" cy="615.7" r="1.55"/>
<circle cx="102.0" cy="616.4" r="1.55"/>
<circle cx="105.6" cy="616.0" r="1.55"/>
<circle cx="82.2" cy="620.8" r="1.55"/>
<circle cx="94.7" cy="620.1" r="1.55"/>
<circle cx="98.3" cy="618.6" r="1.55"/>
<circle cx="100.5" cy="620.1" r="1.55"/>
<circle cx="103.4" cy="619.7" r="1.55"/>
<circle cx="89.5" cy="621.5" r="1.55"/>
<circle cx="87.3" cy="625.6" r="1.55"/>
<circle cx="99.8" cy="620.8" r="1.55"/>
<circle cx="102.3" cy="623.0" r="1.55"/>
<circle cx="98.3" cy="625.6" r="1.55"/>
<circle cx="99.8" cy="628.5" r="1.55"/>
<circle cx="81.1" cy="624.5" r="1.55"/>
<circle cx="77.2" cy="567.5" r="1.55"/>
<circle cx="74.3" cy="570.4" r="1.55"/>
<circle cx="62.3" cy="584.1" r="1.55"/>
<circle cx="58.8" cy="588.9" r="1.55"/>
<circle cx="72.2" cy="584.7" r="1.55"/>
<circle cx="73.9" cy="584.7" r="1.55"/>
<circle cx="72.8" cy="588.0" r="1.55"/>
<circle cx="79.8" cy="585.0" r="1.55"/>
<circle cx="78.0" cy="588.3" r="1.55"/>
<circle cx="67.8" cy="594.7" r="1.55"/>
<circle cx="76.3" cy="593.8" r="1.55"/>
<circle cx="77.1" cy="592.3" r="1.55"/>
<circle cx="72.2" cy="597.6" r="1.55"/>
<circle cx="75.1" cy="598.7" r="1.55"/>
<circle cx="72.2" cy="599.7" r="1.55"/>
<circle cx="77.4" cy="613.7" r="1.55"/>
<circle cx="75.7" cy="615.4" r="1.55"/>
<circle cx="72.8" cy="616.0" r="1.55"/>
<circle cx="70.4" cy="618.4" r="1.55"/>
<circle cx="68.1" cy="620.1" r="1.55"/>
<circle cx="67.3" cy="621.3" r="1.55"/>
<circle cx="73.9" cy="617.2" r="1.55"/>
<circle cx="76.6" cy="622.7" r="1.55"/>
<circle cx="74.8" cy="625.6" r="1.55"/>
<circle cx="79.8" cy="627.1" r="1.55"/>
<circle cx="67.5" cy="625.6" r="1.55"/>
<circle cx="72.0" cy="629.7" r="1.55"/>
<circle cx="73.1" cy="630.0" r="1.55"/>
<circle cx="70.4" cy="633.0" r="1.55"/>
<circle cx="87.4" cy="630.4" r="1.55"/>
<circle cx="77.7" cy="635.3" r="1.55"/>
<circle cx="83.1" cy="635.9" r="1.55"/>
<circle cx="86.2" cy="636.1" r="1.55"/>
<circle cx="92.4" cy="637.6" r="1.55"/>
<circle cx="89.9" cy="640.3" r="1.55"/>
<circle cx="100.8" cy="630.0" r="1.55"/>
<circle cx="61.1" cy="642.9" r="1.55"/>
<circle cx="55.6" cy="645.0" r="1.55"/>
<circle cx="57.2" cy="647.6" r="1.55"/>
<circle cx="88.9" cy="649.7" r="1.55"/>
<circle cx="73.1" cy="658.9" r="1.55"/>
<circle cx="92.3" cy="550.7" r="1.55"/>
<circle cx="93.6" cy="549.8" r="1.55"/>
<circle cx="215.1" cy="487.0" r="1.55"/>
<circle cx="216.0" cy="486.3" r="1.55"/>
<circle cx="128.2" cy="506.3" r="1.55"/>
<circle cx="125.1" cy="511.0" r="1.55"/>
<circle cx="124.2" cy="528.9" r="1.55"/>
<circle cx="122.3" cy="536.4" r="1.55"/>
<circle cx="104.5" cy="569.8" r="1.55"/>
<circle cx="107.8" cy="569.3" r="1.55"/>
<circle cx="110.7" cy="569.3" r="1.55"/>
<circle cx="104.1" cy="571.2" r="1.55"/>
<circle cx="107.4" cy="572.4" r="1.55"/>
<circle cx="107.9" cy="570.7" r="1.55"/>
<circle cx="113.3" cy="571.4" r="1.55"/>
<circle cx="103.0" cy="574.8" r="1.55"/>
<circle cx="103.7" cy="573.4" r="1.55"/>
<circle cx="106.6" cy="572.9" r="1.55"/>
<circle cx="111.5" cy="573.2" r="1.55"/>
<circle cx="113.9" cy="574.0" r="1.55"/>
<circle cx="101.5" cy="577.5" r="1.55"/>
<circle cx="102.7" cy="577.7" r="1.55"/>
<circle cx="105.4" cy="576.4" r="1.55"/>
<circle cx="110.2" cy="577.1" r="1.55"/>
<circle cx="111.1" cy="578.0" r="1.55"/>
<circle cx="101.0" cy="579.6" r="1.55"/>
<circle cx="104.4" cy="579.2" r="1.55"/>
<circle cx="108.9" cy="579.2" r="1.55"/>
<circle cx="110.9" cy="580.3" r="1.55"/>
<circle cx="112.8" cy="578.4" r="1.55"/>
<circle cx="101.2" cy="582.2" r="1.55"/>
<circle cx="103.0" cy="580.8" r="1.55"/>
<circle cx="105.0" cy="583.1" r="1.55"/>
<circle cx="108.5" cy="582.4" r="1.55"/>
<circle cx="111.5" cy="582.8" r="1.55"/>
<circle cx="98.9" cy="585.4" r="1.55"/>
<circle cx="102.0" cy="583.9" r="1.55"/>
<circle cx="105.8" cy="583.7" r="1.55"/>
<circle cx="106.4" cy="583.9" r="1.55"/>
<circle cx="110.6" cy="583.3" r="1.55"/>
<circle cx="97.7" cy="587.3" r="1.55"/>
<circle cx="99.2" cy="585.8" r="1.55"/>
<circle cx="101.9" cy="588.2" r="1.55"/>
<circle cx="106.7" cy="588.3" r="1.55"/>
<circle cx="107.9" cy="587.5" r="1.55"/>
<circle cx="96.3" cy="590.8" r="1.55"/>
<circle cx="99.3" cy="590.2" r="1.55"/>
<circle cx="102.5" cy="590.8" r="1.55"/>
<circle cx="104.3" cy="590.2" r="1.55"/>
<circle cx="108.8" cy="590.7" r="1.55"/>
<circle cx="98.5" cy="593.3" r="1.55"/>
<circle cx="100.8" cy="592.0" r="1.55"/>
<circle cx="103.8" cy="592.5" r="1.55"/>
<circle cx="106.0" cy="593.2" r="1.55"/>
<circle cx="108.1" cy="593.0" r="1.55"/>
<circle cx="93.2" cy="594.9" r="1.55"/>
<circle cx="96.0" cy="596.0" r="1.55"/>
<circle cx="98.0" cy="593.6" r="1.55"/>
<circle cx="101.2" cy="595.4" r="1.55"/>
<circle cx="103.9" cy="594.0" r="1.55"/>
<circle cx="108.8" cy="595.3" r="1.55"/>
<circle cx="92.0" cy="598.6" r="1.55"/>
<circle cx="95.2" cy="597.2" r="1.55"/>
<circle cx="97.4" cy="597.0" r="1.55"/>
<circle cx="99.2" cy="597.5" r="1.55"/>
<circle cx="104.1" cy="598.4" r="1.55"/>
<circle cx="106.8" cy="598.7" r="1.55"/>
<circle cx="108.6" cy="596.6" r="1.55"/>
<circle cx="93.0" cy="600.1" r="1.55"/>
<circle cx="95.2" cy="601.0" r="1.55"/>
<circle cx="100.0" cy="599.9" r="1.55"/>
<circle cx="100.6" cy="598.8" r="1.55"/>
<circle cx="105.7" cy="598.8" r="1.55"/>
<circle cx="108.3" cy="600.3" r="1.55"/>
<circle cx="92.1" cy="602.0" r="1.55"/>
<circle cx="93.2" cy="601.4" r="1.55"/>
<circle cx="97.5" cy="602.5" r="1.55"/>
<circle cx="100.6" cy="603.1" r="1.55"/>
<circle cx="104.0" cy="603.9" r="1.55"/>
<circle cx="106.7" cy="601.9" r="1.55"/>
<circle cx="109.1" cy="601.8" r="1.55"/>
<circle cx="90.3" cy="604.4" r="1.55"/>
<circle cx="92.1" cy="604.9" r="1.55"/>
<circle cx="96.2" cy="605.3" r="1.55"/>
<circle cx="99.0" cy="606.0" r="1.55"/>
<circle cx="101.4" cy="606.1" r="1.55"/>
<circle cx="105.8" cy="604.2" r="1.55"/>
<circle cx="108.9" cy="605.9" r="1.55"/>
<circle cx="92.2" cy="608.7" r="1.55"/>
<circle cx="95.4" cy="607.8" r="1.55"/>
<circle cx="97.6" cy="607.1" r="1.55"/>
<circle cx="100.8" cy="608.7" r="1.55"/>
<circle cx="103.6" cy="608.5" r="1.55"/>
<circle cx="105.4" cy="608.9" r="1.55"/>
<circle cx="93.7" cy="610.1" r="1.55"/>
<circle cx="94.6" cy="610.3" r="1.55"/>
<circle cx="98.8" cy="611.2" r="1.55"/>
<circle cx="101.7" cy="609.2" r="1.55"/>
<circle cx="105.5" cy="609.3" r="1.55"/>
<circle cx="108.5" cy="609.6" r="1.55"/>
<circle cx="92.1" cy="613.6" r="1.55"/>
<circle cx="95.4" cy="613.0" r="1.55"/>
<circle cx="98.4" cy="611.9" r="1.55"/>
<circle cx="99.4" cy="613.1" r="1.55"/>
<circle cx="102.6" cy="613.7" r="1.55"/>
<circle cx="106.6" cy="613.1" r="1.55"/>
<circle cx="97.0" cy="615.7" r="1.55"/>
<circle cx="98.9" cy="614.9" r="1.55"/>
<circle cx="101.8" cy="615.7" r="1.55"/>
<circle cx="105.0" cy="614.4" r="1.55"/>
<circle cx="95.4" cy="619.4" r="1.55"/>
<circle cx="96.6" cy="618.2" r="1.55"/>
<circle cx="99.2" cy="618.1" r="1.55"/>
<circle cx="104.1" cy="619.3" r="1.55"/>
<circle cx="98.3" cy="621.2" r="1.55"/>
<circle cx="100.6" cy="621.5" r="1.55"/>
</g>
<g fill="#1f77b4" stroke="#000" stroke-width="0.75">
<circle cx="302.5" cy="516.8" r="1.55"/>
<circle cx="306.5" cy="520.5" r="1.55"/>
<circle cx="305.4" cy="524.3" r="1.55"/>
<circle cx="311.7" cy="525.2" r="1.55"/>
<circle cx="319.5" cy="521.0" r="1.55"/>
<circle cx="319.5" cy="524.1" r="1.55"/>
<circle cx="315.2" cy="528.9" r="1.55"/>
<circle cx="325.4" cy="534.0" r="1.55"/>
<circle cx="293.7" cy="534.3" r="1.55"/>
<circle cx="296.2" cy="533.1" r="1.55"/>
<circle cx="295.5" cy="537.3" r="1.55"/>
<circle cx="305.4" cy="531.9" r="1.55"/>
<circle cx="309.0" cy="533.6" r="1.55"/>
<circle cx="310.8" cy="534.0" r="1.55"/>
<circle cx="311.2" cy="538.4" r="1.55"/>
<circle cx="314.1" cy="537.3" r="1.55"/>
<circle cx="317.8" cy="536.2" r="1.55"/>
<circle cx="320.7" cy="538.4" r="1.55"/>
<circle cx="311.2" cy="540.5" r="1.55"/>
<circle cx="312.3" cy="543.1" r="1.55"/>
<circle cx="314.5" cy="544.9" r="1.55"/>
<circle cx="324.0" cy="543.8" r="1.55"/>
<circle cx="326.2" cy="544.9" r="1.55"/>
<circle cx="318.1" cy="547.5" r="1.55"/>
<circle cx="358.7" cy="486.1" r="1.55"/>
<circle cx="353.6" cy="497.9" r="1.55"/>
<circle cx="328.0" cy="509.0" r="1.55"/>
<circle cx="368.4" cy="523.9" r="1.55"/>
<circle cx="330.3" cy="523.6" r="1.55"/>
<circle cx="332.8" cy="523.6" r="1.55"/>
<circle cx="329.5" cy="527.6" r="1.55"/>
<circle cx="330.3" cy="531.5" r="1.55"/>
<circle cx="340.9" cy="536.8" r="1.55"/>
<circle cx="343.8" cy="541.2" r="1.55"/>
<circle cx="337.2" cy="540.3" r="1.55"/>
<circle cx="358.9" cy="538.3" r="1.55"/>
<circle cx="355.2" cy="545.9" r="1.55"/>
<circle cx="366.7" cy="547.8" r="1.55"/>
<circle cx="369.4" cy="551.7" r="1.55"/>
<circle cx="355.8" cy="555.4" r="1.55"/>
<circle cx="353.3" cy="558.3" r="1.55"/>
<circle cx="339.4" cy="548.1" r="1.55"/>
<circle cx="337.2" cy="551.7" r="1.55"/>
<circle cx="347.8" cy="564.2" r="1.55"/>
<circle cx="350.4" cy="564.9" r="1.55"/>
<circle cx="349.7" cy="567.8" r="1.55"/>
<circle cx="356.3" cy="564.9" r="1.55"/>
<circle cx="359.2" cy="567.6" r="1.55"/>
<circle cx="363.6" cy="567.6" r="1.55"/>
<circle cx="366.9" cy="560.5" r="1.55"/>
<circle cx="368.7" cy="571.5" r="1.55"/>
<circle cx="362.8" cy="580.7" r="1.55"/>
<circle cx="351.9" cy="576.6" r="1.55"/>
<circle cx="354.1" cy="577.4" r="1.55"/>
<circle cx="338.7" cy="584.7" r="1.55"/>
<circle cx="342.3" cy="570.8" r="1.55"/>
<circle cx="335.8" cy="594.9" r="1.55"/>
<circle cx="323.0" cy="594.9" r="1.55"/>
<circle cx="317.5" cy="595.7" r="1.55"/>
<circle cx="285.5" cy="593.9" r="1.55"/>
<circle cx="331.1" cy="544.4" r="1.55"/>
<circle cx="334.3" cy="547.3" r="1.55"/>
<circle cx="331.4" cy="548.8" r="1.55"/>
<circle cx="332.1" cy="576.6" r="1.55"/>
<circle cx="335.0" cy="576.6" r="1.55"/>
<circle cx="338.0" cy="575.9" r="1.55"/>
<circle cx="331.4" cy="581.0" r="1.55"/>
<circle cx="326.2" cy="575.2" r="1.55"/>
<circle cx="325.5" cy="588.3" r="1.55"/>
<circle cx="328.4" cy="589.1" r="1.55"/>
<circle cx="330.6" cy="587.6" r="1.55"/>
<circle cx="331.4" cy="591.3" r="1.55"/>
<circle cx="370.6" cy="517.0" r="1.55"/>
<circle cx="408.2" cy="535.5" r="1.55"/>
<circle cx="417.2" cy="541.7" r="1.55"/>
<circle cx="421.9" cy="537.3" r="1.55"/>
<circle cx="436.5" cy="536.2" r="1.55"/>
<circle cx="441.5" cy="530.9" r="1.55"/>
<circle cx="370.6" cy="551.7" r="1.55"/>
<circle cx="374.6" cy="552.3" r="1.55"/>
<circle cx="392.7" cy="552.6" r="1.55"/>
<circle cx="399.2" cy="550.5" r="1.55"/>
<circle cx="375.0" cy="557.5" r="1.55"/>
<circle cx="385.9" cy="556.2" r="1.55"/>
<circle cx="396.1" cy="555.2" r="1.55"/>
<circle cx="379.3" cy="562.7" r="1.55"/>
<circle cx="377.7" cy="565.5" r="1.55"/>
<circle cx="370.2" cy="571.8" r="1.55"/>
<circle cx="397.9" cy="573.0" r="1.55"/>
<circle cx="384.0" cy="577.0" r="1.55"/>
<circle cx="371.2" cy="580.4" r="1.55"/>
<circle cx="385.9" cy="585.0" r="1.55"/>
<circle cx="388.4" cy="583.8" r="1.55"/>
<circle cx="373.4" cy="591.9" r="1.55"/>
<circle cx="383.9" cy="591.0" r="1.55"/>
<circle cx="387.7" cy="592.8" r="1.55"/>
<circle cx="373.5" cy="597.4" r="1.55"/>
<circle cx="372.7" cy="600.9" r="1.55"/>
<circle cx="372.2" cy="604.4" r="1.55"/>
<circle cx="382.2" cy="600.7" r="1.55"/>
<circle cx="386.5" cy="597.8" r="1.55"/>
<circle cx="389.6" cy="602.2" r="1.55"/>
<circle cx="391.1" cy="600.7" r="1.55"/>
<circle cx="434.8" cy="595.3" r="1.55"/>
<circle cx="419.3" cy="605.9" r="1.55"/>
<circle cx="397.1" cy="633.8" r="1.55"/>
<circle cx="384.9" cy="641.2" r="1.55"/>
<circle cx="435.8" cy="642.5" r="1.55"/>
<circle cx="443.8" cy="639.6" r="1.55"/>
<circle cx="389.2" cy="656.5" r="1.55"/>
<circle cx="394.8" cy="658.6" r="1.55"/>
<circle cx="283.5" cy="600.7" r="1.55"/>
<circle cx="290.8" cy="606.1" r="1.55"/>
<circle cx="292.5" cy="608.8" r="1.55"/>
<circle cx="294.7" cy="610.2" r="1.55"/>
<circle cx="295.4" cy="605.8" r="1.55"/>
<circle cx="298.6" cy="607.3" r="1.55"/>
<circle cx="297.6" cy="609.5" r="1.55"/>
<circle cx="302.7" cy="610.9" r="1.55"/>
<circle cx="304.2" cy="609.9" r="1.55"/>
<circle cx="300.5" cy="614.6" r="1.55"/>
<circle cx="308.6" cy="609.1" r="1.55"/>
<circle cx="315.6" cy="607.3" r="1.55"/>
<circle cx="317.6" cy="606.9" r="1.55"/>
<circle cx="324.9" cy="608.3" r="1.55"/>
<circle cx="324.6" cy="602.9" r="1.55"/>
<circle cx="324.6" cy="600.7" r="1.55"/>
<circle cx="337.8" cy="602.6" r="1.55"/>
<circle cx="322.4" cy="614.9" r="1.55"/>
<circle cx="345.1" cy="615.5" r="1.55"/>
<circle cx="313.5" cy="618.7" r="1.55"/>
<circle cx="341.4" cy="623.1" r="1.55"/>
<circle cx="307.8" cy="624.8" r="1.55"/>
<circle cx="361.9" cy="605.1" r="1.55"/>
<circle cx="316.6" cy="631.8" r="1.55"/>
<circle cx="334.1" cy="637.7" r="1.55"/>
<circle cx="328.7" cy="641.9" r="1.55"/>
<circle cx="311.5" cy="642.6" r="1.55"/>
<circle cx="294.0" cy="600.7" r="1.55"/>
<circle cx="296.9" cy="600.7" r="1.55"/>
<circle cx="304.2" cy="600.7" r="1.55"/>
<circle cx="307.1" cy="600.7" r="1.55"/>
<circle cx="311.5" cy="600.7" r="1.55"/>
<circle cx="332.7" cy="552.2" r="1.55"/>
<circle cx="326.1" cy="554.2" r="1.55"/>
<circle cx="329.2" cy="553.1" r="1.55"/>
<circle cx="333.0" cy="555.5" r="1.55"/>
<circle cx="336.4" cy="555.1" r="1.55"/>
<circle cx="328.1" cy="557.5" r="1.55"/>
<circle cx="331.3" cy="558.9" r="1.55"/>
<circle cx="335.1" cy="559.0" r="1.55"/>
<circle cx="337.8" cy="558.6" r="1.55"/>
<circle cx="341.8" cy="559.1" r="1.55"/>
<circle cx="326.2" cy="559.5" r="1.55"/>
<circle cx="327.5" cy="559.9" r="1.55"/>
<circle cx="334.1" cy="560.7" r="1.55"/>
<circle cx="336.7" cy="560.2" r="1.55"/>
<circle cx="340.1" cy="560.5" r="1.55"/>
<circle cx="343.4" cy="561.2" r="1.55"/>
<circle cx="327.4" cy="565.6" r="1.55"/>
<circle cx="331.8" cy="565.8" r="1.55"/>
<circle cx="335.0" cy="563.0" r="1.55"/>
<circle cx="339.4" cy="565.8" r="1.55"/>
<circle cx="343.4" cy="564.4" r="1.55"/>
<circle cx="325.6" cy="566.5" r="1.55"/>
<circle cx="329.8" cy="567.7" r="1.55"/>
<circle cx="331.8" cy="566.0" r="1.55"/>
<circle cx="337.5" cy="569.1" r="1.55"/>
<circle cx="338.7" cy="568.5" r="1.55"/>
<circle cx="343.6" cy="566.3" r="1.55"/>
<circle cx="328.1" cy="569.2" r="1.55"/>
<circle cx="331.0" cy="569.2" r="1.55"/>
<circle cx="335.1" cy="570.2" r="1.55"/>
<circle cx="302.7" cy="535.8" r="1.55"/>
<circle cx="307.4" cy="535.4" r="1.55"/>
<circle cx="303.0" cy="536.1" r="1.55"/>
<circle cx="305.3" cy="537.7" r="1.55"/>
<circle cx="308.0" cy="536.3" r="1.55"/>
<circle cx="304.6" cy="540.0" r="1.55"/>
<circle cx="307.5" cy="540.7" r="1.55"/>
<circle cx="309.5" cy="539.6" r="1.55"/>
<circle cx="302.8" cy="541.2" r="1.55"/>
<circle cx="303.8" cy="542.7" r="1.55"/>
<circle cx="307.4" cy="542.5" r="1.55"/>
<circle cx="310.9" cy="542.0" r="1.55"/>
<circle cx="300.3" cy="544.2" r="1.55"/>
<circle cx="303.9" cy="544.4" r="1.55"/>
<circle cx="306.1" cy="545.7" r="1.55"/>
<circle cx="309.0" cy="545.1" r="1.55"/>
<circle cx="302.7" cy="547.9" r="1.55"/>
<circle cx="304.3" cy="547.1" r="1.55"/>
<circle cx="307.1" cy="547.5" r="1.55"/>
<circle cx="309.8" cy="548.1" r="1.55"/>
<circle cx="300.2" cy="548.6" r="1.55"/>
<circle cx="305.1" cy="548.3" r="1.55"/>
<circle cx="313.4" cy="549.2" r="1.55"/>
<circle cx="300.1" cy="549.2" r="1.55"/>
<circle cx="303.0" cy="549.5" r="1.55"/>
<circle cx="306.2" cy="551.6" r="1.55"/>
<circle cx="309.3" cy="549.6" r="1.55"/>
<circle cx="312.5" cy="551.1" r="1.55"/>
<circle cx="314.8" cy="551.3" r="1.55"/>
<circle cx="299.4" cy="553.7" r="1.55"/>
<circle cx="302.1" cy="553.5" r="1.55"/>
<circle cx="304.4" cy="553.6" r="1.55"/>
<circle cx="308.5" cy="552.6" r="1.55"/>
<circle cx="310.4" cy="553.7" r="1.55"/>
<circle cx="313.4" cy="552.6" r="1.55"/>
<circle cx="314.9" cy="552.3" r="1.55"/>
<circle cx="296.5" cy="555.5" r="1.55"/>
<circle cx="298.1" cy="555.1" r="1.55"/>
<circle cx="301.1" cy="555.2" r="1.55"/>
<circle cx="303.0" cy="554.3" r="1.55"/>
<circle cx="306.2" cy="556.1" r="1.55"/>
<circle cx="309.1" cy="554.0" r="1.55"/>
<circle cx="312.3" cy="555.6" r="1.55"/>
<circle cx="315.2" cy="554.3" r="1.55"/>
<circle cx="317.5" cy="553.9" r="1.55"/>
<circle cx="320.0" cy="554.5" r="1.55"/>
<circle cx="321.7" cy="555.9" r="1.55"/>
<circle cx="297.6" cy="556.7" r="1.55"/>
<circle cx="298.7" cy="558.3" r="1.55"/>
<circle cx="301.9" cy="557.9" r="1.55"/>
<circle cx="303.7" cy="557.0" r="1.55"/>
<circle cx="306.7" cy="557.8" r="1.55"/>
<circle cx="309.2" cy="558.5" r="1.55"/>
<circle cx="311.7" cy="557.9" r="1.55"/>
<circle cx="314.4" cy="556.8" r="1.55"/>
<circle cx="319.1" cy="556.5" r="1.55"/>
<circle cx="320.2" cy="557.8" r="1.55"/>
<circle cx="296.5" cy="558.8" r="1.55"/>
<circle cx="296.9" cy="559.3" r="1.55"/>
<circle cx="301.0" cy="560.3" r="1.55"/>
<circle cx="302.5" cy="559.3" r="1.55"/>
<circle cx="305.0" cy="559.6" r="1.55"/>
<circle cx="309.5" cy="560.3" r="1.55"/>
<circle cx="312.5" cy="560.3" r="1.55"/>
<circle cx="315.1" cy="560.2" r="1.55"/>
<circle cx="316.9" cy="559.0" r="1.55"/>
<circle cx="320.0" cy="559.2" r="1.55"/>
<circle cx="321.4" cy="559.6" r="1.55"/>
<circle cx="294.9" cy="561.1" r="1.55"/>
<circle cx="296.9" cy="561.8" r="1.55"/>
<circle cx="299.4" cy="561.2" r="1.55"/>
<circle cx="303.2" cy="561.4" r="1.55"/>
<circle cx="305.1" cy="561.8" r="1.55"/>
<circle cx="306.3" cy="562.2" r="1.55"/>
<circle cx="309.3" cy="561.0" r="1.55"/>
<circle cx="311.8" cy="561.2" r="1.55"/>
<circle cx="314.6" cy="562.4" r="1.55"/>
<circle cx="318.3" cy="563.2" r="1.55"/>
<circle cx="322.1" cy="563.2" r="1.55"/>
<circle cx="323.0" cy="561.9" r="1.55"/>
<circle cx="294.7" cy="564.6" r="1.55"/>
<circle cx="298.4" cy="565.1" r="1.55"/>
<circle cx="301.3" cy="563.8" r="1.55"/>
<circle cx="303.3" cy="564.4" r="1.55"/>
<circle cx="304.9" cy="563.2" r="1.55"/>
<circle cx="308.6" cy="563.4" r="1.55"/>
<circle cx="312.1" cy="563.7" r="1.55"/>
<circle cx="313.3" cy="563.6" r="1.55"/>
<circle cx="316.3" cy="563.7" r="1.55"/>
<circle cx="319.7" cy="564.3" r="1.55"/>
<circle cx="321.9" cy="564.7" r="1.55"/>
<circle cx="297.8" cy="567.3" r="1.55"/>
<circle cx="299.2" cy="566.7" r="1.55"/>
<circle cx="302.3" cy="565.6" r="1.55"/>
<circle cx="304.6" cy="566.8" r="1.55"/>
<circle cx="306.7" cy="565.7" r="1.55"/>
<circle cx="310.9" cy="566.4" r="1.55"/>
<circle cx="312.9" cy="567.7" r="1.55"/>
<circle cx="315.9" cy="566.2" r="1.55"/>
<circle cx="319.5" cy="566.4" r="1.55"/>
<circle cx="319.8" cy="567.2" r="1.55"/>
<circle cx="322.7" cy="566.2" r="1.55"/>
<circle cx="296.2" cy="569.5" r="1.55"/>
<circle cx="296.9" cy="568.9" r="1.55"/>
<circle cx="300.5" cy="569.0" r="1.55"/>
<circle cx="302.7" cy="569.3" r="1.55"/>
<circle cx="305.1" cy="568.5" r="1.55"/>
<circle cx="308.5" cy="570.1" r="1.55"/>
<circle cx="310.5" cy="569.7" r="1.55"/>
<circle cx="313.5" cy="569.2" r="1.55"/>
<circle cx="316.7" cy="569.0" r="1.55"/>
<circle cx="320.3" cy="568.8" r="1.55"/>
<circle cx="321.4" cy="568.1" r="1.55"/>
<circle cx="297.0" cy="572.5" r="1.55"/>
<circle cx="299.9" cy="570.2" r="1.55"/>
<circle cx="302.5" cy="572.1" r="1.55"/>
<circle cx="305.3" cy="571.4" r="1.55"/>
<circle cx="307.2" cy="571.3" r="1.55"/>
<circle cx="310.9" cy="570.8" r="1.55"/>
<circle cx="313.0" cy="571.3" r="1.55"/>
<circle cx="316.7" cy="572.1" r="1.55"/>
<circle cx="319.3" cy="572.2" r="1.55"/>
<circle cx="320.5" cy="570.7" r="1.55"/>
<circle cx="323.7" cy="570.8" r="1.55"/>
<circle cx="295.2" cy="574.2" r="1.55"/>
<circle cx="299.1" cy="573.9" r="1.55"/>
<circle cx="301.5" cy="572.7" r="1.55"/>
<circle cx="303.1" cy="574.9" r="1.55"/>
<circle cx="305.3" cy="573.5" r="1.55"/>
<circle cx="307.8" cy="572.7" r="1.55"/>
<circle cx="312.5" cy="574.9" r="1.55"/>
<circle cx="314.6" cy="572.8" r="1.55"/>
<circle cx="316.5" cy="573.1" r="1.55"/>
<circle cx="320.1" cy="574.2" r="1.55"/>
<circle cx="322.2" cy="573.8" r="1.55"/>
<circle cx="297.8" cy="576.7" r="1.55"/>
<circle cx="298.4" cy="576.1" r="1.55"/>
<circle cx="302.6" cy="575.5" r="1.55"/>
<circle cx="305.8" cy="576.0" r="1.55"/>
<circle cx="308.0" cy="575.8" r="1.55"/>
<circle cx="311.4" cy="576.7" r="1.55"/>
<circle cx="313.1" cy="575.2" r="1.55"/>
<circle cx="315.5" cy="574.9" r="1.55"/>
<circle cx="318.5" cy="577.0" r="1.55"/>
<circle cx="320.2" cy="576.1" r="1.55"/>
<circle cx="295.9" cy="579.5" r="1.55"/>
<circle cx="298.5" cy="578.3" r="1.55"/>
<circle cx="301.9" cy="578.0" r="1.55"/>
<circle cx="304.0" cy="578.8" r="1.55"/>
<circle cx="306.8" cy="579.3" r="1.55"/>
<circle cx="308.2" cy="578.7" r="1.55"/>
<circle cx="311.3" cy="578.8" r="1.55"/>
<circle cx="315.4" cy="578.7" r="1.55"/>
<circle cx="315.8" cy="578.3" r="1.55"/>
<circle cx="320.2" cy="579.3" r="1.55"/>
<circle cx="297.3" cy="581.0" r="1.55"/>
<circle cx="300.4" cy="581.7" r="1.55"/>
<circle cx="301.1" cy="581.5" r="1.55"/>
<circle cx="305.4" cy="580.0" r="1.55"/>
<circle cx="308.1" cy="580.9" r="1.55"/>
<circle cx="309.5" cy="581.5" r="1.55"/>
<circle cx="312.0" cy="581.0" r="1.55"/>
<circle cx="315.4" cy="580.1" r="1.55"/>
<circle cx="318.5" cy="580.7" r="1.55"/>
<circle cx="320.3" cy="581.9" r="1.55"/>
<circle cx="295.3" cy="583.9" r="1.55"/>
<circle cx="298.4" cy="583.7" r="1.55"/>
<circle cx="300.7" cy="583.5" r="1.55"/>
<circle cx="303.0" cy="582.5" r="1.55"/>
<circle cx="306.2" cy="581.9" r="1.55"/>
<circle cx="307.8" cy="583.7" r="1.55"/>
<circle cx="310.8" cy="583.7" r="1.55"/>
<circle cx="314.9" cy="582.8" r="1.55"/>
<circle cx="317.4" cy="583.8" r="1.55"/>
<circle cx="320.5" cy="582.2" r="1.55"/>
<circle cx="295.5" cy="585.6" r="1.55"/>
<circle cx="300.5" cy="585.1" r="1.55"/>
<circle cx="302.2" cy="585.1" r="1.55"/>
<circle cx="304.7" cy="586.3" r="1.55"/>
<circle cx="307.0" cy="585.8" r="1.55"/>
<circle cx="310.2" cy="585.5" r="1.55"/>
<circle cx="313.9" cy="584.4" r="1.55"/>
<circle cx="316.4" cy="584.9" r="1.55"/>
<circle cx="318.7" cy="586.1" r="1.55"/>
<circle cx="295.7" cy="587.5" r="1.55"/>
<circle cx="298.1" cy="588.6" r="1.55"/>
<circle cx="301.5" cy="588.1" r="1.55"/>
<circle cx="303.0" cy="587.1" r="1.55"/>
<circle cx="306.0" cy="587.1" r="1.55"/>
<circle cx="308.3" cy="588.9" r="1.55"/>
<circle cx="310.6" cy="588.5" r="1.55"/>
<circle cx="314.0" cy="587.4" r="1.55"/>
<circle cx="316.5" cy="586.7" r="1.55"/>
<circle cx="295.0" cy="591.1" r="1.55"/>
<circle cx="296.6" cy="590.4" r="1.55"/>
<circle cx="300.4" cy="589.7" r="1.55"/>
<circle cx="301.1" cy="589.5" r="1.55"/>
<circle cx="304.0" cy="590.5" r="1.55"/>
<circle cx="307.2" cy="589.7" r="1.55"/>
<circle cx="310.9" cy="589.4" r="1.55"/>
<circle cx="313.6" cy="590.4" r="1.55"/>
<circle cx="315.4" cy="590.9" r="1.55"/>
<circle cx="295.9" cy="593.0" r="1.55"/>
<circle cx="298.9" cy="593.5" r="1.55"/>
<circle cx="301.4" cy="593.6" r="1.55"/>
<circle cx="302.9" cy="592.7" r="1.55"/>
<circle cx="306.6" cy="592.1" r="1.55"/>
<circle cx="308.6" cy="591.6" r="1.55"/>
<circle cx="312.7" cy="592.1" r="1.55"/>
<circle cx="314.2" cy="593.4" r="1.55"/>
<circle cx="295.0" cy="595.7" r="1.55"/>
<circle cx="297.3" cy="594.6" r="1.55"/>
<circle cx="299.5" cy="594.1" r="1.55"/>
<circle cx="302.9" cy="594.5" r="1.55"/>
<circle cx="304.3" cy="595.1" r="1.55"/>
<circle cx="306.7" cy="594.3" r="1.55"/>
<circle cx="311.2" cy="593.8" r="1.55"/>
<circle cx="312.0" cy="594.0" r="1.55"/>
<circle cx="295.0" cy="597.8" r="1.55"/>
<circle cx="297.0" cy="596.2" r="1.55"/>
<circle cx="301.6" cy="596.9" r="1.55"/>
<circle cx="304.1" cy="596.2" r="1.55"/>
<circle cx="306.2" cy="597.9" r="1.55"/>
<circle cx="308.5" cy="597.8" r="1.55"/>
<circle cx="311.8" cy="596.8" r="1.55"/>
<circle cx="299.3" cy="599.2" r="1.55"/>
<circle cx="302.2" cy="598.3" r="1.55"/>
</g>
<g fill="#1f77b4" stroke="#000" stroke-width="0.75">
<circle cx="587.5" cy="489.1" r="1.55"/>
<circle cx="570.4" cy="505.6" r="1.55"/>
<circle cx="514.2" cy="513.2" r="1.55"/>
<circle cx="511.1" cy="520.8" r="1.55"/>
<circle cx="577.6" cy="517.6" r="1.55"/>
<circle cx="581.6" cy="523.7" r="1.55"/>
<circle cx="594.3" cy="542.4" r="1.55"/>
<circle cx="588.2" cy="547.9" r="1.55"/>
<circle cx="597.3" cy="551.5" r="1.55"/>
<circle cx="586.5" cy="555.0" r="1.55"/>
<circle cx="599.6" cy="555.4" r="1.55"/>
<circle cx="568.8" cy="559.5" r="1.55"/>
<circle cx="573.0" cy="562.3" r="1.55"/>
<circle cx="585.0" cy="561.7" r="1.55"/>
<circle cx="595.5" cy="561.4" r="1.55"/>
<circle cx="598.4" cy="562.4" r="1.55"/>
<circle cx="597.3" cy="564.6" r="1.55"/>
<circle cx="548.4" cy="566.3" r="1.55"/>
<circle cx="532.4" cy="570.7" r="1.55"/>
<circle cx="543.0" cy="572.2" r="1.55"/>
<circle cx="530.1" cy="575.8" r="1.55"/>
<circle cx="529.5" cy="577.3" r="1.55"/>
<circle cx="527.2" cy="584.9" r="1.55"/>
<circle cx="567.5" cy="579.5" r="1.55"/>
<circle cx="562.7" cy="588.5" r="1.55"/>
<circle cx="590.4" cy="580.5" r="1.55"/>
<circle cx="592.2" cy="582.8" r="1.55"/>
<circle cx="599.6" cy="590.9" r="1.55"/>
<circle cx="587.8" cy="592.9" r="1.55"/>
<circle cx="591.9" cy="597.0" r="1.55"/>
<circle cx="599.2" cy="604.3" r="1.55"/>
<circle cx="563.4" cy="638.9" r="1.55"/>
<circle cx="559.7" cy="657.3" r="1.55"/>
<circle cx="630.1" cy="486.1" r="1.55"/>
<circle cx="640.6" cy="491.0" r="1.55"/>
<circle cx="640.6" cy="493.1" r="1.55"/>
<circle cx="640.9" cy="499.9" r="1.55"/>
<circle cx="629.9" cy="497.1" r="1.55"/>
<circle cx="629.5" cy="501.3" r="1.55"/>
<circle cx="647.6" cy="508.5" r="1.55"/>
<circle cx="623.9" cy="512.6" r="1.55"/>
<circle cx="632.1" cy="512.4" r="1.55"/>
<circle cx="632.7" cy="514.6" r="1.55"/>
<circle cx="635.6" cy="514.1" r="1.55"/>
<circle cx="634.5" cy="515.8" r="1.55"/>
<circle cx="638.5" cy="517.3" r="1.55"/>
<circle cx="640.3" cy="518.8" r="1.55"/>
<circle cx="644.1" cy="518.5" r="1.55"/>
<circle cx="649.1" cy="517.3" r="1.55"/>
<circle cx="652.0" cy="519.0" r="1.55"/>
<circle cx="659.6" cy="518.2" r="1.55"/>
<circle cx="626.6" cy="522.8" r="1.55"/>
<circle cx="636.2" cy="521.4" r="1.55"/>
<circle cx="638.5" cy="522.5" r="1.55"/>
<circle cx="640.3" cy="524.3" r="1.55"/>
<circle cx="643.2" cy="523.5" r="1.55"/>
<circle cx="643.4" cy="525.1" r="1.55"/>
<circle cx="640.3" cy="527.0" r="1.55"/>
<circle cx="655.1" cy="524.5" r="1.55"/>
<circle cx="618.7" cy="525.5" r="1.55"/>
<circle cx="617.5" cy="529.2" r="1.55"/>
<circle cx="637.4" cy="529.6" r="1.55"/>
<circle cx="639.7" cy="530.1" r="1.55"/>
<circle cx="642.0" cy="530.7" r="1.55"/>
<circle cx="645.0" cy="530.1" r="1.55"/>
<circle cx="647.9" cy="529.0" r="1.55"/>
<circle cx="651.4" cy="531.7" r="1.55"/>
<circle cx="635.0" cy="531.9" r="1.55"/>
<circle cx="637.4" cy="533.1" r="1.55"/>
<circle cx="640.3" cy="533.3" r="1.55"/>
<circle cx="633.9" cy="534.2" r="1.55"/>
<circle cx="638.5" cy="535.4" r="1.55"/>
<circle cx="642.0" cy="535.4" r="1.55"/>
<circle cx="631.5" cy="537.1" r="1.55"/>
<circle cx="635.0" cy="537.7" r="1.55"/>
<circle cx="638.5" cy="538.3" r="1.55"/>
<circle cx="642.0" cy="537.7" r="1.55"/>
<circle cx="646.7" cy="537.1" r="1.55"/>
<circle cx="650.2" cy="537.1" r="1.55"/>
<circle cx="611.4" cy="537.5" r="1.55"/>
<circle cx="614.4" cy="538.3" r="1.55"/>
<circle cx="607.9" cy="540.6" r="1.55"/>
<circle cx="602.6" cy="546.1" r="1.55"/>
<circle cx="619.3" cy="546.1" r="1.55"/>
<circle cx="612.3" cy="548.8" r="1.55"/>
<circle cx="615.8" cy="549.3" r="1.55"/>
<circle cx="619.3" cy="551.1" r="1.55"/>
<circle cx="622.8" cy="550.5" r="1.55"/>
<circle cx="625.7" cy="549.9" r="1.55"/>
<circle cx="620.4" cy="555.2" r="1.55"/>
<circle cx="600.6" cy="555.2" r="1.55"/>
<circle cx="604.7" cy="558.7" r="1.55"/>
<circle cx="604.1" cy="561.0" r="1.55"/>
<circle cx="614.6" cy="559.9" r="1.55"/>
<circle cx="609.9" cy="563.4" r="1.55"/>
<circle cx="608.8" cy="565.7" r="1.55"/>
<circle cx="608.8" cy="572.7" r="1.55"/>
<circle cx="611.7" cy="571.5" r="1.55"/>
<circle cx="612.8" cy="574.5" r="1.55"/>
<circle cx="616.9" cy="572.7" r="1.55"/>
<circle cx="602.9" cy="580.9" r="1.55"/>
<circle cx="601.2" cy="584.4" r="1.55"/>
<circle cx="614.6" cy="580.3" r="1.55"/>
<circle cx="618.1" cy="580.9" r="1.55"/>
<circle cx="617.5" cy="585.5" r="1.55"/>
<circle cx="621.6" cy="590.5" r="1.55"/>
<circle cx="600.6" cy="590.8" r="1.55"/>
<circle cx="649.1" cy="549.9" r="1.55"/>
<circle cx="653.1" cy="549.3" r="1.55"/>
<circle cx="660.7" cy="555.2" r="1.55"/>
<circle cx="663.1" cy="555.5" r="1.55"/>
<circle cx="647.9" cy="558.1" r="1.55"/>
<circle cx="654.3" cy="559.9" r="1.55"/>
<circle cx="650.2" cy="566.3" r="1.55"/>
<circle cx="660.7" cy="571.8" r="1.55"/>
<circle cx="656.6" cy="576.2" r="1.55"/>
<circle cx="664.8" cy="577.6" r="1.55"/>
<circle cx="667.7" cy="577.1" r="1.55"/>
<circle cx="660.7" cy="580.3" r="1.55"/>
<circle cx="657.2" cy="584.4" r="1.55"/>
<circle cx="661.9" cy="594.9" r="1.55"/>
<circle cx="631.5" cy="595.6" r="1.55"/>
<circle cx="645.0" cy="596.8" r="1.55"/>
<circle cx="653.1" cy="596.2" r="1.55"/>
<circle cx="661.9" cy="595.6" r="1.55"/>
<circle cx="630.4" cy="599.1" r="1.55"/>
<circle cx="635.0" cy="600.6" r="1.55"/>
<circle cx="634.5" cy="602.0" r="1.55"/>
<circle cx="625.9" cy="601.4" r="1.55"/>
<circle cx="625.1" cy="605.5" r="1.55"/>
<circle cx="633.5" cy="605.7" r="1.55"/>
<circle cx="619.3" cy="607.5" r="1.55"/>
<circle cx="653.5" cy="601.8" r="1.55"/>
<circle cx="656.1" cy="602.6" r="1.55"/>
<circle cx="657.5" cy="599.9" r="1.55"/>
<circle cx="653.5" cy="604.1" r="1.55"/>
<circle cx="664.8" cy="604.3" r="1.55"/>
<circle cx="668.3" cy="603.4" r="1.55"/>
<circle cx="671.5" cy="604.1" r="1.55"/>
<circle cx="660.5" cy="609.0" r="1.55"/>
<circle cx="658.7" cy="612.8" r="1.55"/>
<circle cx="655.2" cy="616.0" r="1.55"/>
<circle cx="626.9" cy="617.0" r="1.55"/>
<circle cx="616.6" cy="623.3" r="1.55"/>
<circle cx="623.4" cy="624.2" r="1.55"/>
<circle cx="614.0" cy="628.5" r="1.55"/>
<circle cx="662.7" cy="638.6" r="1.55"/>
<circle cx="625.1" cy="641.7" r="1.55"/>
<circle cx="624.5" cy="658.9" r="1.55"/>
<circle cx="600.2" cy="604.3" r="1.55"/>
<circle cx="631.8" cy="540.3" r="1.55"/>
<circle cx="638.2" cy="540.2" r="1.55"/>
<circle cx="642.6" cy="540.9" r="1.55"/>
<circle cx="629.7" cy="542.5" r="1.55"/>
<circle cx="631.4" cy="543.1" r="1.55"/>
<circle cx="634.9" cy="543.2" r="1.55"/>
<circle cx="637.8" cy="541.7" r="1.55"/>
<circle cx="639.1" cy="541.4" r="1.55"/>
<circle cx="641.0" cy="541.2" r="1.55"/>
<circle cx="643.8" cy="542.3" r="1.55"/>
<circle cx="645.6" cy="542.5" r="1.55"/>
<circle cx="630.5" cy="544.4" r="1.55"/>
<circle cx="632.2" cy="543.2" r="1.55"/>
<circle cx="635.0" cy="545.2" r="1.55"/>
<circle cx="637.5" cy="544.8" r="1.55"/>
<circle cx="641.5" cy="545.2" r="1.55"/>
<circle cx="642.7" cy="543.9" r="1.55"/>
<circle cx="645.6" cy="544.9" r="1.55"/>
<circle cx="629.7" cy="546.0" r="1.55"/>
<circle cx="631.6" cy="545.7" r="1.55"/>
<circle cx="633.5" cy="545.6" r="1.55"/>
<circle cx="637.3" cy="547.5" r="1.55"/>
<circle cx="638.6" cy="545.4" r="1.55"/>
<circle cx="642.9" cy="546.4" r="1.55"/>
<circle cx="644.1" cy="545.8" r="1.55"/>
<circle cx="630.0" cy="549.2" r="1.55"/>
<circle cx="632.8" cy="548.4" r="1.55"/>
<circle cx="636.8" cy="549.3" r="1.55"/>
<circle cx="639.2" cy="548.4" r="1.55"/>
<circle cx="640.6" cy="549.0" r="1.55"/>
<circle cx="643.0" cy="548.0" r="1.55"/>
<circle cx="645.3" cy="547.7" r="1.55"/>
<circle cx="630.2" cy="551.0" r="1.55"/>
<circle cx="632.4" cy="551.2" r="1.55"/>
<circle cx="634.2" cy="551.1" r="1.55"/>
<circle cx="636.4" cy="550.6" r="1.55"/>
<circle cx="640.0" cy="551.0" r="1.55"/>
<circle cx="641.4" cy="551.6" r="1.55"/>
<circle cx="644.6" cy="550.8" r="1.55"/>
<circle cx="645.6" cy="550.7" r="1.55"/>
<circle cx="629.2" cy="553.1" r="1.55"/>
<circle cx="631.8" cy="553.7" r="1.55"/>
<circle cx="633.3" cy="552.8" r="1.55"/>
<circle cx="635.0" cy="553.5" r="1.55"/>
<circle cx="639.1" cy="552.7" r="1.55"/>
<circle cx="641.0" cy="553.2" r="1.55"/>
<circle cx="643.6" cy="552.0" r="1.55"/>
<circle cx="629.9" cy="553.8" r="1.55"/>
<circle cx="632.0" cy="554.2" r="1.55"/>
<circle cx="633.5" cy="554.0" r="1.55"/>
<circle cx="636.5" cy="554.1" r="1.55"/>
<circle cx="638.7" cy="553.8" r="1.55"/>
<circle cx="641.7" cy="554.6" r="1.55"/>
<circle cx="644.5" cy="555.1" r="1.55"/>
<circle cx="628.5" cy="558.0" r="1.55"/>
<circle cx="631.5" cy="556.8" r="1.55"/>
<circle cx="633.9" cy="557.3" r="1.55"/>
<circle cx="635.4" cy="556.2" r="1.55"/>
<circle cx="638.4" cy="557.1" r="1.55"/>
<circle cx="641.6" cy="558.0" r="1.55"/>
<circle cx="643.3" cy="556.6" r="1.55"/>
<circle cx="628.2" cy="558.8" r="1.55"/>
<circle cx="630.6" cy="560.0" r="1.55"/>
<circle cx="632.2" cy="558.6" r="1.55"/>
<circle cx="635.5" cy="559.1" r="1.55"/>
<circle cx="636.7" cy="558.7" r="1.55"/>
<circle cx="640.4" cy="559.1" r="1.55"/>
<circle cx="641.4" cy="559.0" r="1.55"/>
<circle cx="643.4" cy="559.4" r="1.55"/>
<circle cx="627.0" cy="560.8" r="1.55"/>
<circle cx="628.6" cy="561.2" r="1.55"/>
<circle cx="631.1" cy="561.4" r="1.55"/>
<circle cx="633.8" cy="560.4" r="1.55"/>
<circle cx="636.3" cy="560.8" r="1.55"/>
<circle cx="638.2" cy="560.9" r="1.55"/>
<circle cx="640.2" cy="561.3" r="1.55"/>
<circle cx="643.0" cy="560.9" r="1.55"/>
<circle cx="646.0" cy="561.4" r="1.55"/>
<circle cx="624.5" cy="563.5" r="1.55"/>
<circle cx="627.6" cy="563.6" r="1.55"/>
<circle cx="629.5" cy="564.2" r="1.55"/>
<circle cx="631.8" cy="563.1" r="1.55"/>
<circle cx="635.3" cy="562.7" r="1.55"/>
<circle cx="636.5" cy="564.1" r="1.55"/>
<circle cx="638.4" cy="564.1" r="1.55"/>
<circle cx="642.3" cy="563.2" r="1.55"/>
<circle cx="643.8" cy="564.0" r="1.55"/>
<circle cx="622.9" cy="566.2" r="1.55"/>
<circle cx="626.5" cy="565.8" r="1.55"/>
<circle cx="627.3" cy="566.0" r="1.55"/>
<circle cx="631.9" cy="566.6" r="1.55"/>
<circle cx="633.7" cy="564.5" r="1.55"/>
<circle cx="636.5" cy="564.8" r="1.55"/>
<circle cx="638.5" cy="566.5" r="1.55"/>
<circle cx="641.1" cy="564.7" r="1.55"/>
<circle cx="642.6" cy="566.4" r="1.55"/>
<circle cx="644.7" cy="565.7" r="1.55"/>
<circle cx="647.8" cy="564.7" r="1.55"/>
<circle cx="624.8" cy="568.1" r="1.55"/>
<circle cx="628.0" cy="566.8" r="1.55"/>
<circle cx="629.4" cy="567.2" r="1.55"/>
<circle cx="632.2" cy="567.6" r="1.55"/>
<circle cx="635.4" cy="567.3" r="1.55"/>
<circle cx="635.9" cy="568.0" r="1.55"/>
<circle cx="638.6" cy="567.9" r="1.55"/>
<circle cx="641.8" cy="568.5" r="1.55"/>
<circle cx="644.4" cy="567.8" r="1.55"/>
<circle cx="646.2" cy="567.7" r="1.55"/>
<circle cx="648.6" cy="568.1" r="1.55"/>
<circle cx="621.5" cy="569.0" r="1.55"/>
<circle cx="623.9" cy="570.0" r="1.55"/>
<circle cx="625.0" cy="570.1" r="1.55"/>
<circle cx="627.4" cy="568.9" r="1.55"/>
<circle cx="631.0" cy="569.1" r="1.55"/>
<circle cx="634.1" cy="569.7" r="1.55"/>
<circle cx="635.3" cy="570.4" r="1.55"/>
<circle cx="637.1" cy="570.2" r="1.55"/>
<circle cx="639.6" cy="568.9" r="1.55"/>
<circle cx="644.0" cy="570.1" r="1.55"/>
<circle cx="644.9" cy="568.9" r="1.55"/>
<circle cx="649.0" cy="570.1" r="1.55"/>
<circle cx="651.1" cy="568.9" r="1.55"/>
<circle cx="621.6" cy="571.5" r="1.55"/>
<circle cx="624.9" cy="571.5" r="1.55"/>
<circle cx="626.9" cy="571.0" r="1.55"/>
<circle cx="630.3" cy="572.2" r="1.55"/>
<circle cx="632.7" cy="571.7" r="1.55"/>
<circle cx="635.3" cy="571.9" r="1.55"/>
<circle cx="637.1" cy="572.0" r="1.55"/>
<circle cx="639.9" cy="571.6" r="1.55"/>
<circle cx="640.9" cy="570.8" r="1.55"/>
<circle cx="643.6" cy="570.8" r="1.55"/>
<circle cx="647.6" cy="571.8" r="1.55"/>
<circle cx="649.7" cy="570.7" r="1.55"/>
<circle cx="651.6" cy="572.7" r="1.55"/>
<circle cx="622.7" cy="573.2" r="1.55"/>
<circle cx="625.6" cy="573.7" r="1.55"/>
<circle cx="629.2" cy="573.2" r="1.55"/>
<circle cx="630.3" cy="573.5" r="1.55"/>
<circle cx="632.5" cy="573.5" r="1.55"/>
<circle cx="635.1" cy="573.9" r="1.55"/>
<circle cx="637.1" cy="574.9" r="1.55"/>
<circle cx="640.3" cy="574.9" r="1.55"/>
<circle cx="643.5" cy="574.3" r="1.55"/>
<circle cx="645.4" cy="574.9" r="1.55"/>
<circle cx="647.1" cy="574.3" r="1.55"/>
<circle cx="649.9" cy="574.3" r="1.55"/>
<circle cx="653.4" cy="573.2" r="1.55"/>
<circle cx="621.6" cy="575.0" r="1.55"/>
<circle cx="624.1" cy="575.1" r="1.55"/>
<circle cx="626.9" cy="577.1" r="1.55"/>
<circle cx="629.3" cy="575.7" r="1.55"/>
<circle cx="632.0" cy="575.6" r="1.55"/>
<circle cx="635.0" cy="576.5" r="1.55"/>
<circle cx="636.2" cy="575.5" r="1.55"/>
<circle cx="639.8" cy="577.0" r="1.55"/>
<circle cx="642.1" cy="575.9" r="1.55"/>
<circle cx="645.3" cy="575.0" r="1.55"/>
<circle cx="645.8" cy="576.7" r="1.55"/>
<circle cx="649.0" cy="575.1" r="1.55"/>
<circle cx="651.7" cy="577.1" r="1.55"/>
<circle cx="654.1" cy="575.7" r="1.55"/>
<circle cx="624.3" cy="578.2" r="1.55"/>
<circle cx="626.9" cy="577.2" r="1.55"/>
<circle cx="627.8" cy="577.2" r="1.55"/>
<circle cx="630.6" cy="577.2" r="1.55"/>
<circle cx="632.7" cy="578.0" r="1.55"/>
<circle cx="635.3" cy="577.2" r="1.55"/>
<circle cx="637.1" cy="579.2" r="1.55"/>
<circle cx="639.9" cy="578.2" r="1.55"/>
<circle cx="642.8" cy="578.3" r="1.55"/>
<circle cx="644.6" cy="577.8" r="1.55"/>
<circle cx="647.1" cy="578.3" r="1.55"/>
<circle cx="651.3" cy="578.4" r="1.55"/>
<circle cx="653.6" cy="577.6" r="1.55"/>
<circle cx="624.6" cy="580.5" r="1.55"/>
<circle cx="626.9" cy="580.6" r="1.55"/>
<circle cx="630.1" cy="581.2" r="1.55"/>
<circle cx="631.6" cy="580.2" r="1.55"/>
<circle cx="635.2" cy="579.7" r="1.55"/>
<circle cx="636.1" cy="579.9" r="1.55"/>
<circle cx="638.5" cy="580.9" r="1.55"/>
<circle cx="642.5" cy="579.9" r="1.55"/>
<circle cx="643.5" cy="579.4" r="1.55"/>
<circle cx="646.2" cy="579.4" r="1.55"/>
<circle cx="649.0" cy="580.5" r="1.55"/>
<circle cx="651.1" cy="579.3" r="1.55"/>
<circle cx="654.5" cy="579.3" r="1.55"/>
<circle cx="623.2" cy="581.5" r="1.55"/>
<circle cx="625.7" cy="582.0" r="1.55"/>
<circle cx="628.9" cy="582.6" r="1.55"/>
<circle cx="631.7" cy="582.8" r="1.55"/>
<circle cx="633.8" cy="582.6" r="1.55"/>
<circle cx="635.6" cy="583.1" r="1.55"/>
<circle cx="638.5" cy="583.4" r="1.55"/>
<circle cx="641.1" cy="582.9" r="1.55"/>
<circle cx="642.5" cy="583.1" r="1.55"/>
<circle cx="645.2" cy="581.6" r="1.55"/>
<circle cx="647.0" cy="581.7" r="1.55"/>
<circle cx="649.9" cy="582.8" r="1.55"/>
<circle cx="652.4" cy="581.5" r="1.55"/>
<circle cx="623.6" cy="583.6" r="1.55"/>
<circle cx="626.3" cy="584.2" r="1.55"/>
<circle cx="630.4" cy="585.5" r="1.55"/>
<circle cx="632.3" cy="584.0" r="1.55"/>
<circle cx="634.3" cy="584.3" r="1.55"/>
<circle cx="636.6" cy="583.5" r="1.55"/>
<circle cx="639.6" cy="585.3" r="1.55"/>
<circle cx="642.3" cy="583.7" r="1.55"/>
<circle cx="644.3" cy="583.8" r="1.55"/>
<circle cx="647.2" cy="584.4" r="1.55"/>
<circle cx="650.1" cy="585.2" r="1.55"/>
<circle cx="650.8" cy="584.2" r="1.55"/>
<circle cx="626.0" cy="587.7" r="1.55"/>
<circle cx="628.6" cy="585.8" r="1.55"/>
<circle cx="631.5" cy="586.5" r="1.55"/>
<circle cx="632.3" cy="587.7" r="1.55"/>
<circle cx="634.7" cy="586.8" r="1.55"/>
<circle cx="638.1" cy="587.5" r="1.55"/>
<circle cx="640.4" cy="586.1" r="1.55"/>
<circle cx="642.6" cy="586.0" r="1.55"/>
<circle cx="645.6" cy="586.4" r="1.55"/>
<circle cx="648.5" cy="586.1" r="1.55"/>
<circle cx="650.1" cy="586.1" r="1.55"/>
<circle cx="627.9" cy="588.8" r="1.55"/>
<circle cx="628.6" cy="588.1" r="1.55"/>
<circle cx="631.1" cy="589.3" r="1.55"/>
<circle cx="635.4" cy="588.1" r="1.55"/>
<circle cx="637.6" cy="588.4" r="1.55"/>
<circle cx="639.8" cy="589.6" r="1.55"/>
<circle cx="642.1" cy="589.5" r="1.55"/>
<circle cx="644.0" cy="587.7" r="1.55"/>
<circle cx="646.8" cy="589.0" r="1.55"/>
<circle cx="648.5" cy="588.6" r="1.55"/>
<circle cx="651.2" cy="587.8" r="1.55"/>
<circle cx="628.8" cy="591.3" r="1.55"/>
<circle cx="630.9" cy="591.6" r="1.55"/>
<circle cx="632.9" cy="591.1" r="1.55"/>
<circle cx="636.1" cy="591.0" r="1.55"/>
<circle cx="637.7" cy="590.0" r="1.55"/>
<circle cx="639.7" cy="590.6" r="1.55"/>
<circle cx="643.2" cy="591.5" r="1.55"/>
<circle cx="646.0" cy="590.5" r="1.55"/>
<circle cx="648.9" cy="590.4" r="1.55"/>
<circle cx="632.9" cy="592.5" r="1.55"/>
<circle cx="635.5" cy="593.1" r="1.55"/>
<circle cx="636.7" cy="591.9" r="1.55"/>
<circle cx="639.1" cy="592.3" r="1.55"/>
<circle cx="642.2" cy="593.9" r="1.55"/>
<circle cx="645.2" cy="593.3" r="1.55"/>
<circle cx="646.5" cy="592.2" r="1.55"/>
<circle cx="634.0" cy="596.0" r="1.55"/>
<circle cx="636.2" cy="595.0" r="1.55"/>
<circle cx="638.0" cy="595.2" r="1.55"/>
<circle cx="641.5" cy="594.7" r="1.55"/>
<circle cx="642.6" cy="595.4" r="1.55"/>
<circle cx="640.1" cy="597.2" r="1.55"/>
<circle cx="640.9" cy="596.6" r="1.55"/>
<circle cx="643.5" cy="596.4" r="1.55"/>
</g>
<g fill="#1f77b4" stroke="#000" stroke-width="0.75">
<circle cx="119.7" cy="768.3" r="1.55"/>
<circle cx="113.1" cy="778.0" r="1.55"/>
<circle cx="114.0" cy="789.3" r="1.55"/>
<circle cx="112.5" cy="791.2" r="1.55"/>
<circle cx="110.7" cy="794.9" r="1.55"/>
<circle cx="110.1" cy="797.8" r="1.55"/>
<circle cx="111.0" cy="799.0" r="1.55"/>
<circle cx="117.4" cy="799.8" r="1.55"/>
<circle cx="103.5" cy="803.1" r="1.55"/>
<circle cx="108.4" cy="802.5" r="1.55"/>
<circle cx="109.8" cy="804.8" r="1.55"/>
<circle cx="109.0" cy="806.0" r="1.55"/>
<circle cx="111.9" cy="806.0" r="1.55"/>
<circle cx="116.0" cy="806.6" r="1.55"/>
<circle cx="107.0" cy="810.7" r="1.55"/>
<circle cx="105.8" cy="812.6" r="1.55"/>
<circle cx="111.9" cy="810.7" r="1.55"/>
<circle cx="112.5" cy="813.0" r="1.55"/>
<circle cx="110.1" cy="814.5" r="1.55"/>
<circle cx="83.3" cy="819.8" r="1.55"/>
<circle cx="95.8" cy="818.2" r="1.55"/>
<circle cx="72.8" cy="823.9" r="1.55"/>
<circle cx="90.6" cy="825.0" r="1.55"/>
<circle cx="107.2" cy="820.4" r="1.55"/>
<circle cx="110.5" cy="820.0" r="1.55"/>
<circle cx="106.3" cy="823.2" r="1.55"/>
<circle cx="110.1" cy="822.9" r="1.55"/>
<circle cx="77.4" cy="827.1" r="1.55"/>
<circle cx="92.3" cy="827.3" r="1.55"/>
<circle cx="103.1" cy="828.9" r="1.55"/>
<circle cx="106.3" cy="830.3" r="1.55"/>
<circle cx="112.8" cy="831.8" r="1.55"/>
<circle cx="109.6" cy="833.8" r="1.55"/>
<circle cx="118.6" cy="827.6" r="1.55"/>
<circle cx="59.3" cy="831.1" r="1.55"/>
<circle cx="56.8" cy="838.1" r="1.55"/>
<circle cx="75.9" cy="838.2" r="1.55"/>
<circle cx="64.0" cy="843.1" r="1.55"/>
<circle cx="108.2" cy="836.4" r="1.55"/>
<circle cx="110.1" cy="837.3" r="1.55"/>
<circle cx="112.8" cy="836.7" r="1.55"/>
<circle cx="109.3" cy="839.9" r="1.55"/>
<circle cx="112.5" cy="841.4" r="1.55"/>
<circle cx="109.8" cy="843.1" r="1.55"/>
<circle cx="112.8" cy="844.9" r="1.55"/>
<circle cx="111.0" cy="846.0" r="1.55"/>
<circle cx="89.1" cy="847.8" r="1.55"/>
<circle cx="111.0" cy="850.7" r="1.55"/>
<circle cx="109.0" cy="853.6" r="1.55"/>
<circle cx="111.9" cy="854.0" r="1.55"/>
<circle cx="104.3" cy="856.2" r="1.55"/>
<circle cx="110.1" cy="856.5" r="1.55"/>
<circle cx="112.8" cy="855.9" r="1.55"/>
<circle cx="109.0" cy="859.1" r="1.55"/>
<circle cx="111.7" cy="859.5" r="1.55"/>
<circle cx="109.6" cy="862.1" r="1.55"/>
<circle cx="111.9" cy="862.4" r="1.55"/>
<circle cx="60.7" cy="859.8" r="1.55"/>
<circle cx="111.3" cy="877.6" r="1.55"/>
<circle cx="109.8" cy="879.9" r="1.55"/>
<circle cx="110.5" cy="882.8" r="1.55"/>
<circle cx="109.8" cy="884.6" r="1.55"/>
<circle cx="103.7" cy="884.3" r="1.55"/>
<circle cx="106.6" cy="887.5" r="1.55"/>
<circle cx="108.6" cy="890.2" r="1.55"/>
<circle cx="110.5" cy="901.1" r="1.55"/>
<circle cx="105.1" cy="902.9" r="1.55"/>
<circle cx="110.5" cy="914.9" r="1.55"/>
<circle cx="189.7" cy="745.3" r="1.55"/>
<circle cx="225.4" cy="760.2" r="1.55"/>
<circle cx="202.4" cy="782.2" r="1.55"/>
<circle cx="200.5" cy="786.4" r="1.55"/>
<circle cx="173.7" cy="787.5" r="1.55"/>
<circle cx="155.0" cy="790.3" r="1.55"/>
<circle cx="156.6" cy="811.0" r="1.55"/>
<circle cx="163.5" cy="810.5" r="1.55"/>
<circle cx="169.6" cy="810.3" r="1.55"/>
<circle cx="146.0" cy="813.9" r="1.55"/>
<circle cx="145.4" cy="831.7" r="1.55"/>
<circle cx="395.3" cy="745.0" r="1.55"/>
<circle cx="395.8" cy="748.5" r="1.55"/>
<circle cx="393.9" cy="750.5" r="1.55"/>
<circle cx="393.2" cy="754.9" r="1.55"/>
<circle cx="391.7" cy="757.7" r="1.55"/>
<circle cx="395.6" cy="759.0" r="1.55"/>
<circle cx="394.7" cy="764.1" r="1.55"/>
<circle cx="394.5" cy="769.2" r="1.55"/>
<circle cx="393.9" cy="769.4" r="1.55"/>
<circle cx="391.9" cy="779.1" r="1.55"/>
<circle cx="394.5" cy="783.5" r="1.55"/>
<circle cx="393.7" cy="789.1" r="1.55"/>
<circle cx="396.0" cy="789.3" r="1.55"/>
<circle cx="393.7" cy="794.5" r="1.55"/>
<circle cx="395.3" cy="795.5" r="1.55"/>
<circle cx="398.3" cy="797.1" r="1.55"/>
<circle cx="393.2" cy="797.3" r="1.55"/>
<circle cx="394.9" cy="800.2" r="1.55"/>
<circle cx="395.8" cy="802.9" r="1.55"/>
<circle cx="396.6" cy="808.3" r="1.55"/>
<circle cx="393.9" cy="811.4" r="1.55"/>
<circle cx="393.5" cy="815.2" r="1.55"/>
<circle cx="395.8" cy="814.9" r="1.55"/>
<circle cx="398.0" cy="818.3" r="1.55"/>
<circle cx="393.7" cy="823.1" r="1.55"/>
<circle cx="397.3" cy="824.7" r="1.55"/>
<circle cx="394.3" cy="829.6" r="1.55"/>
<circle cx="396.9" cy="831.4" r="1.55"/>
<circle cx="394.3" cy="833.2" r="1.55"/>
<circle cx="394.6" cy="835.5" r="1.55"/>
<circle cx="396.9" cy="839.3" r="1.55"/>
<circle cx="399.2" cy="840.4" r="1.55"/>
<circle cx="396.7" cy="842.4" r="1.55"/>
<circle cx="393.3" cy="843.7" r="1.55"/>
<circle cx="395.4" cy="853.9" r="1.55"/>
<circle cx="393.3" cy="857.0" r="1.55"/>
<circle cx="394.3" cy="857.6" r="1.55"/>
<circle cx="395.9" cy="860.9" r="1.55"/>
<circle cx="393.8" cy="862.4" r="1.55"/>
<circle cx="396.4" cy="863.1" r="1.55"/>
<circle cx="394.6" cy="865.5" r="1.55"/>
<circle cx="379.0" cy="863.1" r="1.55"/>
<circle cx="393.3" cy="878.5" r="1.55"/>
<circle cx="403.9" cy="885.7" r="1.55"/>
<circle cx="391.0" cy="897.3" r="1.55"/>
<circle cx="395.4" cy="905.5" r="1.55"/>
<circle cx="343.3" cy="820.9" r="1.55"/>
<circle cx="322.3" cy="834.7" r="1.55"/>
<circle cx="332.8" cy="839.1" r="1.55"/>
<circle cx="279.2" cy="887.9" r="1.55"/>
<circle cx="307.4" cy="915.2" r="1.55"/>
<circle cx="445.3" cy="781.3" r="1.55"/>
<circle cx="436.5" cy="801.7" r="1.55"/>
<circle cx="433.3" cy="804.0" r="1.55"/>
<circle cx="430.4" cy="819.4" r="1.55"/>
<circle cx="420.6" cy="824.8" r="1.55"/>
<circle cx="424.6" cy="826.4" r="1.55"/>
<circle cx="445.6" cy="840.7" r="1.55"/>
<circle cx="448.3" cy="854.3" r="1.55"/>
<circle cx="562.9" cy="745.3" r="1.55"/>
<circle cx="561.4" cy="767.6" r="1.55"/>
<circle cx="560.8" cy="792.8" r="1.55"/>
<circle cx="561.8" cy="802.3" r="1.55"/>
<circle cx="560.8" cy="811.4" r="1.55"/>
<circle cx="560.4" cy="814.4" r="1.55"/>
<circle cx="560.4" cy="818.0" r="1.55"/>
<circle cx="561.6" cy="822.9" r="1.55"/>
<circle cx="562.0" cy="832.7" r="1.55"/>
<circle cx="561.3" cy="835.2" r="1.55"/>
<circle cx="561.3" cy="847.3" r="1.55"/>
<circle cx="561.0" cy="856.6" r="1.55"/>
<circle cx="561.3" cy="880.1" r="1.55"/>
<circle cx="561.0" cy="897.2" r="1.55"/>
<circle cx="561.3" cy="915.2" r="1.55"/>
<circle cx="535.8" cy="775.6" r="1.55"/>
<circle cx="502.3" cy="816.9" r="1.55"/>
<circle cx="671.2" cy="772.5" r="1.55"/>
</g>
<line x1="109.9" y1="477.2" x2="109.9" y2="667.0" stroke="rgba(0,0,0,0.5)" stroke-width="1.5" stroke-dasharray="2.7,1.4"/>
<line x1="47.6" y1="573.0" x2="223.8" y2="573.0" stroke="rgba(0,0,0,0.5)" stroke-width="1.5" stroke-dasharray="2.7,1.4"/>
<line x1="305.4" y1="477.2" x2="305.4" y2="667.1" stroke="#000" stroke-width="1.0" stroke-dasharray="2.7,1.4"/>
<line x1="275.5" y1="598.8" x2="451.4" y2="598.8" stroke="rgba(0,0,0,0.5)" stroke-width="1.5" stroke-dasharray="2.7,1.4"/>
<line x1="633.5" y1="477.0" x2="633.5" y2="667.1" stroke="#000" stroke-width="1.0" stroke-dasharray="2.7,1.4"/>
<line x1="503.2" y1="535.8" x2="679.2" y2="535.8" stroke="#000" stroke-width="1.0" stroke-dasharray="2.7,1.4"/>
<line x1="111.3" y1="736.8" x2="111.3" y2="922.9" stroke="#000" stroke-width="1.0" stroke-dasharray="2.7,1.4"/>
<line x1="48.4" y1="817.0" x2="233.9" y2="817.0" stroke="#000" stroke-width="1.0" stroke-dasharray="2.7,1.4"/>
<line x1="394.3" y1="736.7" x2="394.3" y2="923.0" stroke="#000" stroke-width="1.0" stroke-dasharray="2.7,1.4"/>
<line x1="271.3" y1="844.1" x2="455.5" y2="844.1" stroke="#000" stroke-width="1.0" stroke-dasharray="2.7,1.4"/>
<line x1="561.1" y1="736.7" x2="561.1" y2="923.0" stroke="#000" stroke-width="1.0" stroke-dasharray="2.7,1.4"/>
<line x1="493.9" y1="798.9" x2="679.2" y2="798.9" stroke="#000" stroke-width="1.0" stroke-dasharray="2.7,1.4"/>
</svg>
</body></html>
